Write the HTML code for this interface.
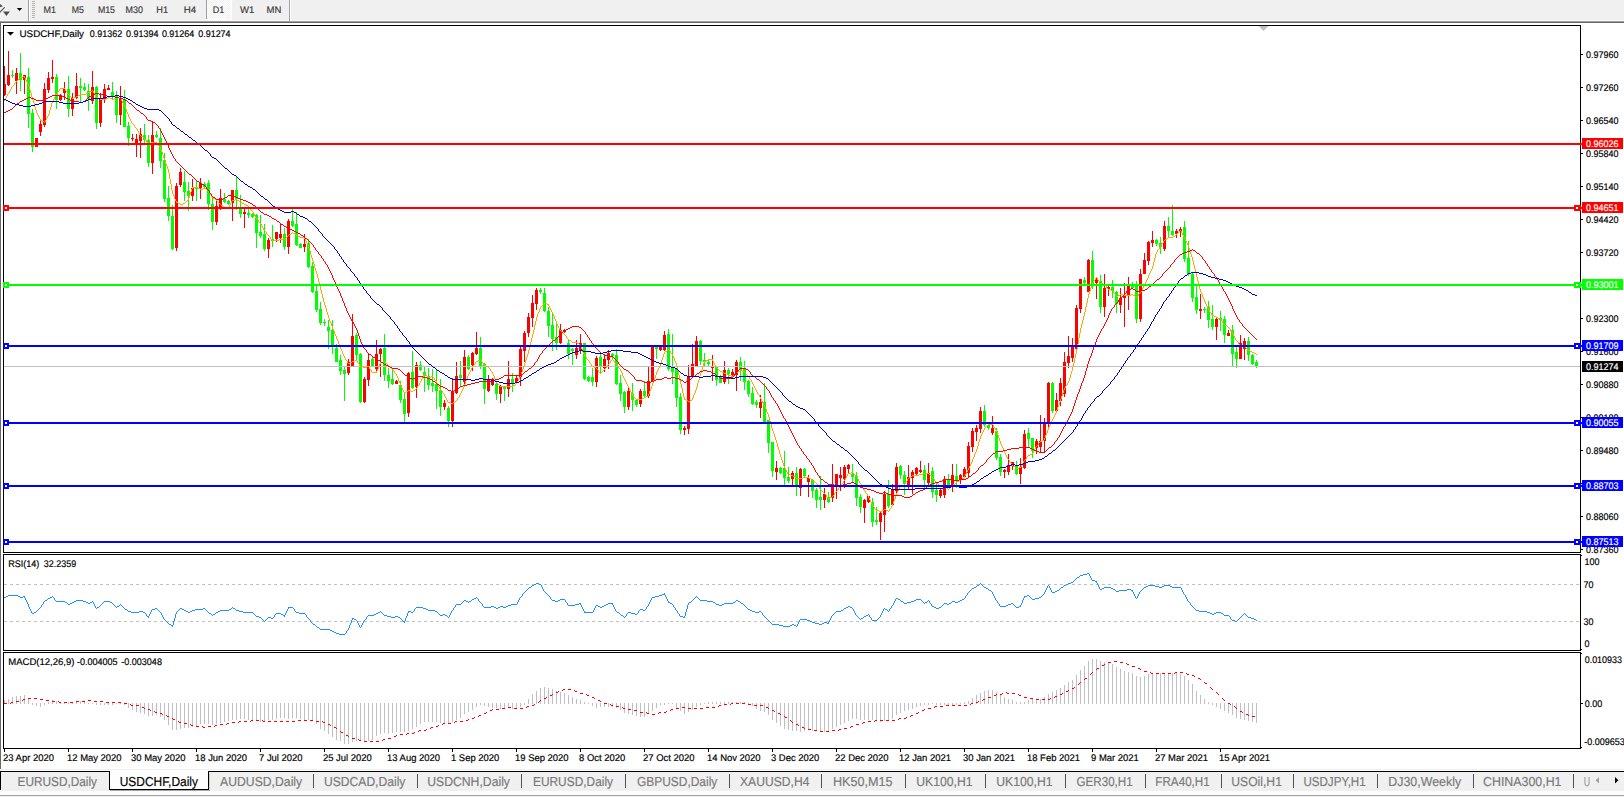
<!DOCTYPE html>
<html><head><meta charset="utf-8"><title>USDCHF,Daily</title>
<style>
html,body{margin:0;padding:0;background:#fff;overflow:hidden}
body{width:1624px;height:797px;font-family:"Liberation Sans", sans-serif}
svg{display:block}
text{font-family:"Liberation Sans", sans-serif;text-rendering:geometricPrecision}
</style></head><body>
<svg width="1624" height="797" viewBox="0 0 1624 797" shape-rendering="crispEdges" font-family='"Liberation Sans", sans-serif'>
<rect x="0" y="0" width="1624" height="797" fill="#fff"/>
<rect x="0" y="0" width="1624" height="21" fill="#f0f0f0"/>
<rect x="0" y="20" width="1624" height="1" fill="#f8f8f8"/>
<rect x="0" y="21" width="1624" height="1" fill="#a0a0a0"/>
<rect x="0" y="22" width="1624" height="1" fill="#696969"/>
<rect x="28" y="0" width="1" height="21" fill="#a0a0a0"/>
<rect x="29" y="0" width="1" height="21" fill="#ffffff"/>
<rect x="289" y="0" width="1" height="21" fill="#a0a0a0"/>
<rect x="290" y="0" width="1" height="21" fill="#ffffff"/>
<rect x="32" y="1" width="3" height="1" fill="#b4b4b4"/>
<rect x="32" y="3" width="3" height="1" fill="#b4b4b4"/>
<rect x="32" y="5" width="3" height="1" fill="#b4b4b4"/>
<rect x="32" y="7" width="3" height="1" fill="#b4b4b4"/>
<rect x="32" y="9" width="3" height="1" fill="#b4b4b4"/>
<rect x="32" y="11" width="3" height="1" fill="#b4b4b4"/>
<rect x="32" y="13" width="3" height="1" fill="#b4b4b4"/>
<rect x="32" y="15" width="3" height="1" fill="#b4b4b4"/>
<rect x="32" y="17" width="3" height="1" fill="#b4b4b4"/>
<defs><pattern id="dith" width="2" height="2" patternUnits="userSpaceOnUse"><rect width="2" height="2" fill="#f0f0f0"/><rect width="1" height="1" fill="#fff"/><rect x="1" y="1" width="1" height="1" fill="#fff"/></pattern></defs>
<rect x="207" y="0" width="24" height="19" fill="url(#dith)"/>
<rect x="206" y="0" width="1" height="19" fill="#a0a0a0"/>
<rect x="207" y="19" width="25" height="1" fill="#ffffff"/>
<rect x="231" y="0" width="1" height="19" fill="#ffffff"/>
<path d="M0 4 L2.9 6.2 L0 7.2 Z M3 11.4 L9.9 11.4 L6.4 16 Z" fill="#505050" shape-rendering="auto"/>
<path d="M-0.5 12.6 L4.6 7.4" stroke="#505050" stroke-width="1.1" fill="none" shape-rendering="auto"/>
<path d="M16.8 8 L22.2 8 L19.5 11 Z" fill="#000" shape-rendering="auto"/>
<text x="43.5" y="13" font-size="9.6" fill="#3c3c3c" stroke="#3c3c3c" stroke-width="0.18" textLength="12.5" lengthAdjust="spacingAndGlyphs">M1</text>
<text x="71.8" y="13" font-size="9.6" fill="#3c3c3c" stroke="#3c3c3c" stroke-width="0.18" textLength="12.2" lengthAdjust="spacingAndGlyphs">M5</text>
<text x="97.9" y="13" font-size="9.6" fill="#3c3c3c" stroke="#3c3c3c" stroke-width="0.18" textLength="17.1" lengthAdjust="spacingAndGlyphs">M15</text>
<text x="125.6" y="13" font-size="9.6" fill="#3c3c3c" stroke="#3c3c3c" stroke-width="0.18" textLength="17.4" lengthAdjust="spacingAndGlyphs">M30</text>
<text x="156.3" y="13" font-size="9.6" fill="#3c3c3c" stroke="#3c3c3c" stroke-width="0.18" textLength="11.8" lengthAdjust="spacingAndGlyphs">H1</text>
<text x="183.8" y="13" font-size="9.6" fill="#3c3c3c" stroke="#3c3c3c" stroke-width="0.18" textLength="12.4" lengthAdjust="spacingAndGlyphs">H4</text>
<text x="212.7" y="13" font-size="9.6" fill="#3c3c3c" stroke="#3c3c3c" stroke-width="0.18" textLength="11.5" lengthAdjust="spacingAndGlyphs">D1</text>
<text x="240" y="13" font-size="9.6" fill="#3c3c3c" stroke="#3c3c3c" stroke-width="0.18" textLength="14.3" lengthAdjust="spacingAndGlyphs">W1</text>
<text x="266.6" y="13" font-size="9.6" fill="#3c3c3c" stroke="#3c3c3c" stroke-width="0.18" textLength="14.8" lengthAdjust="spacingAndGlyphs">MN</text>
<rect x="0" y="22" width="1" height="747" fill="#696969"/>
<rect x="3" y="25" width="1578" height="1" fill="#000"/>
<rect x="3" y="25" width="1" height="528" fill="#000"/>
<rect x="1580" y="25" width="1" height="528" fill="#000"/>
<rect x="3" y="552" width="1578" height="1" fill="#000"/>
<rect x="3" y="554" width="1578" height="1" fill="#000"/>
<rect x="3" y="554" width="1" height="97" fill="#000"/>
<rect x="1580" y="554" width="1" height="97" fill="#000"/>
<rect x="3" y="650" width="1578" height="1" fill="#000"/>
<rect x="3" y="652" width="1578" height="1" fill="#000"/>
<rect x="3" y="652" width="1" height="97" fill="#000"/>
<rect x="1580" y="652" width="1" height="97" fill="#000"/>
<rect x="3" y="748" width="1578" height="1" fill="#000"/>
<rect x="1581" y="555" width="1" height="1" fill="#000"/>
<rect x="1581" y="649" width="1" height="1" fill="#000"/>
<rect x="1581" y="653" width="1" height="1" fill="#000"/>
<rect x="1581" y="747" width="1" height="1" fill="#000"/>
<rect x="1581" y="54" width="2" height="1" fill="#000"/>
<text x="1586" y="57.65" font-size="9.6" fill="#000" stroke="#000" stroke-width="0.18" textLength="32.4" lengthAdjust="spacingAndGlyphs">0.97960</text>
<rect x="1581" y="87" width="2" height="1" fill="#000"/>
<text x="1586" y="90.65" font-size="9.6" fill="#000" stroke="#000" stroke-width="0.18" textLength="32.4" lengthAdjust="spacingAndGlyphs">0.97260</text>
<rect x="1581" y="120" width="2" height="1" fill="#000"/>
<text x="1586" y="123.65" font-size="9.6" fill="#000" stroke="#000" stroke-width="0.18" textLength="32.4" lengthAdjust="spacingAndGlyphs">0.96540</text>
<rect x="1581" y="153" width="2" height="1" fill="#000"/>
<text x="1586" y="156.65" font-size="9.6" fill="#000" stroke="#000" stroke-width="0.18" textLength="32.4" lengthAdjust="spacingAndGlyphs">0.95840</text>
<rect x="1581" y="186" width="2" height="1" fill="#000"/>
<text x="1586" y="189.65" font-size="9.6" fill="#000" stroke="#000" stroke-width="0.18" textLength="32.4" lengthAdjust="spacingAndGlyphs">0.95140</text>
<rect x="1581" y="219" width="2" height="1" fill="#000"/>
<text x="1586" y="222.65" font-size="9.6" fill="#000" stroke="#000" stroke-width="0.18" textLength="32.4" lengthAdjust="spacingAndGlyphs">0.94420</text>
<rect x="1581" y="252" width="2" height="1" fill="#000"/>
<text x="1586" y="255.65" font-size="9.6" fill="#000" stroke="#000" stroke-width="0.18" textLength="32.4" lengthAdjust="spacingAndGlyphs">0.93720</text>
<rect x="1581" y="285" width="2" height="1" fill="#000"/>
<rect x="1581" y="318" width="2" height="1" fill="#000"/>
<text x="1586" y="321.65" font-size="9.6" fill="#000" stroke="#000" stroke-width="0.18" textLength="32.4" lengthAdjust="spacingAndGlyphs">0.92300</text>
<rect x="1581" y="351" width="2" height="1" fill="#000"/>
<text x="1586" y="354.65" font-size="9.6" fill="#000" stroke="#000" stroke-width="0.18" textLength="32.4" lengthAdjust="spacingAndGlyphs">0.91600</text>
<rect x="1581" y="384" width="2" height="1" fill="#000"/>
<text x="1586" y="387.65" font-size="9.6" fill="#000" stroke="#000" stroke-width="0.18" textLength="32.4" lengthAdjust="spacingAndGlyphs">0.90880</text>
<rect x="1581" y="417" width="2" height="1" fill="#000"/>
<text x="1586" y="420.65" font-size="9.6" fill="#000" stroke="#000" stroke-width="0.18" textLength="32.4" lengthAdjust="spacingAndGlyphs">0.90180</text>
<rect x="1581" y="450" width="2" height="1" fill="#000"/>
<text x="1586" y="453.65" font-size="9.6" fill="#000" stroke="#000" stroke-width="0.18" textLength="32.4" lengthAdjust="spacingAndGlyphs">0.89480</text>
<rect x="1581" y="483" width="2" height="1" fill="#000"/>
<rect x="1581" y="516" width="2" height="1" fill="#000"/>
<text x="1586" y="519.65" font-size="9.6" fill="#000" stroke="#000" stroke-width="0.18" textLength="32.4" lengthAdjust="spacingAndGlyphs">0.88060</text>
<rect x="1581" y="549" width="2" height="1" fill="#000"/>
<text x="1586" y="552.65" font-size="9.6" fill="#000" stroke="#000" stroke-width="0.18" textLength="32.4" lengthAdjust="spacingAndGlyphs">0.87360</text>
<path d="M12 70h1v8h-1zM11 75h3v1h-3zM20 53h1v38h-1zM19 73h3v7h-3zM28 68h1v60h-1zM27 77h3v37h-3zM32 109h1v43h-1zM31 113h3v34h-3zM56 74h1v35h-1zM55 77h3v23h-3zM68 76h1v41h-1zM67 89h3v20h-3zM80 78h1v24h-1zM79 86h3v2h-3zM84 83h1v8h-1zM83 87h3v3h-3zM88 84h1v27h-1zM87 91h3v8h-3zM96 86h1v43h-1zM95 87h3v36h-3zM112 82h1v17h-1zM111 92h3v5h-3zM116 91h1v32h-1zM115 95h3v20h-3zM124 90h1v37h-1zM123 99h3v28h-3zM128 122h1v24h-1zM127 126h3v12h-3zM144 124h1v19h-1zM143 135h3v5h-3zM148 135h1v32h-1zM147 140h3v23h-3zM156 131h1v7h-1zM155 135h3v2h-3zM160 128h1v40h-1zM159 138h3v23h-3zM164 153h1v49h-1zM163 160h3v39h-3zM168 186h1v35h-1zM167 198h3v18h-3zM172 205h1v45h-1zM171 216h3v33h-3zM184 171h1v30h-1zM183 182h3v10h-3zM188 182h1v29h-1zM187 191h3v5h-3zM196 181h1v20h-1zM195 187h3v2h-3zM204 182h1v6h-1zM203 184h3v3h-3zM208 180h1v30h-1zM207 183h3v21h-3zM212 198h1v32h-1zM211 204h3v18h-3zM224 193h1v10h-1zM223 199h3v3h-3zM228 200h1v5h-1zM227 201h3v3h-3zM236 176h1v34h-1zM235 190h3v9h-3zM240 195h1v23h-1zM239 208h3v6h-3zM248 209h1v9h-1zM247 213h3v2h-3zM252 213h1v5h-1zM251 214h3v3h-3zM256 214h1v34h-1zM255 215h3v18h-3zM260 215h1v23h-1zM259 232h3v4h-3zM264 224h1v27h-1zM263 234h3v15h-3zM272 225h1v22h-1zM271 239h3v2h-3zM284 228h1v22h-1zM283 234h3v13h-3zM292 209h1v18h-1zM291 221h3v5h-3zM296 212h1v34h-1zM295 224h3v21h-3zM300 243h1v5h-1zM299 244h3v4h-3zM308 239h1v29h-1zM307 243h3v24h-3zM312 262h1v31h-1zM311 266h3v26h-3zM316 286h1v26h-1zM315 291h3v19h-3zM320 302h1v23h-1zM319 309h3v14h-3zM324 319h1v7h-1zM323 322h3v1h-3zM328 320h1v29h-1zM327 327h3v4h-3zM332 320h1v34h-1zM331 330h3v17h-3zM336 344h1v18h-1zM335 348h3v14h-3zM340 355h1v20h-1zM339 360h3v11h-3zM344 366h1v35h-1zM343 370h3v4h-3zM356 333h1v27h-1zM355 335h3v20h-3zM360 353h1v50h-1zM359 354h3v48h-3zM372 357h1v10h-1zM371 359h3v7h-3zM384 334h1v47h-1zM383 348h3v27h-3zM388 368h1v20h-1zM387 375h3v6h-3zM392 370h1v15h-1zM391 379h3v5h-3zM400 381h1v22h-1zM399 385h3v15h-3zM404 393h1v29h-1zM403 399h3v15h-3zM412 351h1v38h-1zM411 372h3v16h-3zM420 361h1v10h-1zM419 365h3v5h-3zM424 367h1v25h-1zM423 372h3v3h-3zM428 368h1v22h-1zM427 376h3v9h-3zM432 369h1v23h-1zM431 383h3v3h-3zM436 370h1v39h-1zM435 384h3v7h-3zM440 379h1v37h-1zM439 390h3v17h-3zM448 406h1v21h-1zM447 408h3v13h-3zM460 361h1v26h-1zM459 375h3v3h-3zM468 355h1v15h-1zM467 357h3v12h-3zM480 337h1v32h-1zM479 348h3v18h-3zM484 363h1v41h-1zM483 364h3v25h-3zM496 382h1v18h-1zM495 384h3v10h-3zM504 386h1v15h-1zM503 386h3v3h-3zM512 373h1v19h-1zM511 379h3v4h-3zM540 288h1v6h-1zM539 290h3v2h-3zM544 288h1v24h-1zM543 293h3v18h-3zM548 307h1v30h-1zM547 311h3v15h-3zM552 313h1v38h-1zM551 325h3v14h-3zM556 323h1v27h-1zM555 337h3v6h-3zM568 340h1v19h-1zM567 343h3v11h-3zM572 348h1v17h-1zM571 349h3v2h-3zM584 343h1v37h-1zM583 343h3v36h-3zM588 376h1v6h-1zM587 377h3v4h-3zM592 368h1v18h-1zM591 377h3v5h-3zM600 352h1v22h-1zM599 357h3v10h-3zM612 353h1v7h-1zM611 354h3v2h-3zM616 349h1v36h-1zM615 355h3v29h-3zM620 375h1v26h-1zM619 383h3v11h-3zM624 391h1v22h-1zM623 392h3v15h-3zM632 383h1v28h-1zM631 394h3v6h-3zM636 399h1v8h-1zM635 400h3v5h-3zM644 381h1v16h-1zM643 391h3v5h-3zM656 346h1v13h-1zM655 347h3v2h-3zM668 329h1v42h-1zM667 334h3v35h-3zM672 334h1v50h-1zM671 367h3v5h-3zM676 368h1v39h-1zM675 369h3v29h-3zM680 393h1v41h-1zM679 397h3v33h-3zM700 340h1v25h-1zM699 341h3v20h-3zM704 353h1v14h-1zM703 360h3v2h-3zM708 360h1v7h-1zM707 362h3v2h-3zM716 366h1v20h-1zM715 367h3v13h-3zM720 375h1v8h-1zM719 377h3v6h-3zM728 368h1v16h-1zM727 370h3v4h-3zM740 357h1v24h-1zM739 362h3v8h-3zM744 361h1v29h-1zM743 369h3v13h-3zM748 380h1v17h-1zM747 381h3v13h-3zM752 387h1v18h-1zM751 393h3v11h-3zM756 400h1v8h-1zM755 402h3v3h-3zM764 383h1v40h-1zM763 402h3v20h-3zM768 420h1v33h-1zM767 420h3v23h-3zM772 442h1v35h-1zM771 442h3v29h-3zM780 467h1v7h-1zM779 468h3v5h-3zM784 451h1v34h-1zM783 468h3v10h-3zM788 467h1v16h-1zM787 477h3v4h-3zM796 467h1v29h-1zM795 473h3v14h-3zM804 468h1v9h-1zM803 469h3v7h-3zM812 479h1v19h-1zM811 480h3v11h-3zM816 488h1v20h-1zM815 490h3v10h-3zM820 476h1v34h-1zM819 497h3v3h-3zM828 492h1v11h-1zM827 497h3v5h-3zM852 464h1v18h-1zM851 474h3v3h-3zM856 472h1v34h-1zM855 476h3v22h-3zM860 494h1v19h-1zM859 497h3v10h-3zM872 498h1v29h-1zM871 502h3v20h-3zM876 507h1v18h-1zM875 520h3v2h-3zM888 480h1v28h-1zM887 494h3v12h-3zM900 465h1v14h-1zM899 466h3v9h-3zM904 471h1v24h-1zM903 475h3v9h-3zM924 465h1v23h-1zM923 470h3v10h-3zM932 467h1v31h-1zM931 471h3v21h-3zM936 482h1v20h-1zM935 490h3v5h-3zM948 474h1v14h-1zM947 480h3v6h-3zM956 464h1v24h-1zM955 476h3v4h-3zM984 405h1v22h-1zM983 411h3v14h-3zM988 423h1v7h-1zM987 425h3v3h-3zM996 428h1v32h-1zM995 431h3v27h-3zM1000 454h1v22h-1zM999 457h3v15h-3zM1016 461h1v14h-1zM1015 465h3v9h-3zM1028 428h1v19h-1zM1027 433h3v6h-3zM1032 438h1v20h-1zM1031 438h3v13h-3zM1052 382h1v31h-1zM1051 383h3v28h-3zM1084 277h1v7h-1zM1083 280h3v3h-3zM1092 251h1v38h-1zM1091 260h3v26h-3zM1100 275h1v38h-1zM1099 281h3v26h-3zM1112 280h1v18h-1zM1111 287h3v4h-3zM1116 291h1v22h-1zM1115 292h3v12h-3zM1132 282h1v7h-1zM1131 284h3v4h-3zM1136 281h1v42h-1zM1135 286h3v33h-3zM1156 239h1v7h-1zM1155 240h3v4h-3zM1160 237h1v17h-1zM1159 243h3v4h-3zM1168 217h1v21h-1zM1167 226h3v5h-3zM1172 205h1v31h-1zM1171 231h3v4h-3zM1184 221h1v41h-1zM1183 227h3v32h-3zM1188 241h1v35h-1zM1187 258h3v16h-3zM1192 272h1v30h-1zM1191 274h3v24h-3zM1196 285h1v29h-1zM1195 297h3v13h-3zM1204 307h1v6h-1zM1203 309h3v1h-3zM1208 301h1v27h-1zM1207 307h3v13h-3zM1212 305h1v25h-1zM1211 319h3v8h-3zM1220 311h1v20h-1zM1219 318h3v2h-3zM1224 316h1v27h-1zM1223 319h3v16h-3zM1232 325h1v42h-1zM1231 330h3v24h-3zM1236 347h1v21h-1zM1235 352h3v7h-3zM1248 337h1v24h-1zM1247 341h3v14h-3zM1252 354h1v11h-1zM1251 355h3v9h-3zM1256 360h1v8h-1zM1255 362h3v5h-3z" fill="#00ff00"/>
<path d="M4 66h1v30h-1zM4 84h2v11h-2zM8 51h1v35h-1zM7 75h3v10h-3zM16 68h1v26h-1zM15 73h3v8h-3zM24 75h1v19h-1zM23 75h3v5h-3zM36 138h1v9h-1zM35 138h3v9h-3zM40 120h1v16h-1zM39 124h3v8h-3zM44 83h1v44h-1zM43 89h3v36h-3zM48 72h1v21h-1zM47 78h3v12h-3zM52 60h1v23h-1zM51 77h3v2h-3zM60 94h1v7h-1zM59 96h3v4h-3zM64 82h1v18h-1zM63 89h3v4h-3zM72 93h1v23h-1zM71 98h3v11h-3zM76 73h1v26h-1zM75 86h3v12h-3zM92 71h1v33h-1zM91 87h3v14h-3zM100 93h1v34h-1zM99 98h3v25h-3zM104 84h1v19h-1zM103 89h3v10h-3zM108 85h1v5h-1zM107 88h3v2h-3zM120 86h1v39h-1zM119 99h3v16h-3zM132 134h1v7h-1zM131 138h3v1h-3zM136 134h1v23h-1zM135 139h3v4h-3zM140 128h1v30h-1zM139 134h3v7h-3zM152 122h1v52h-1zM151 135h3v28h-3zM176 183h1v68h-1zM175 186h3v62h-3zM180 168h1v19h-1zM179 172h3v13h-3zM192 179h1v22h-1zM191 188h3v8h-3zM200 178h1v21h-1zM199 183h3v5h-3zM216 199h1v26h-1zM215 206h3v16h-3zM220 189h1v21h-1zM219 198h3v10h-3zM232 190h1v31h-1zM231 190h3v13h-3zM244 209h1v19h-1zM243 212h3v2h-3zM268 238h1v20h-1zM267 240h3v9h-3zM276 232h1v10h-1zM275 232h3v7h-3zM280 223h1v20h-1zM279 234h3v4h-3zM288 219h1v35h-1zM287 221h3v26h-3zM304 234h1v18h-1zM303 244h3v3h-3zM348 359h1v16h-1zM347 362h3v11h-3zM352 314h1v53h-1zM351 336h3v30h-3zM364 377h1v26h-1zM363 379h3v23h-3zM368 353h1v33h-1zM367 360h3v20h-3zM376 340h1v32h-1zM375 354h3v15h-3zM380 348h1v29h-1zM379 349h3v5h-3zM396 380h1v4h-1zM395 381h3v3h-3zM408 372h1v45h-1zM407 373h3v40h-3zM416 362h1v36h-1zM415 365h3v22h-3zM444 400h1v10h-1zM443 403h3v4h-3zM452 378h1v49h-1zM451 392h3v29h-3zM456 362h1v32h-1zM455 376h3v17h-3zM464 350h1v37h-1zM463 357h3v25h-3zM472 352h1v19h-1zM471 353h3v12h-3zM476 332h1v23h-1zM475 348h3v6h-3zM488 375h1v17h-1zM487 379h3v12h-3zM492 378h1v8h-1zM491 379h3v6h-3zM500 385h1v18h-1zM499 386h3v8h-3zM508 361h1v36h-1zM507 379h3v10h-3zM516 375h1v9h-1zM515 378h3v5h-3zM520 346h1v40h-1zM519 349h3v28h-3zM524 331h1v31h-1zM523 333h3v18h-3zM528 313h1v24h-1zM527 317h3v16h-3zM532 295h1v32h-1zM531 303h3v15h-3zM536 288h1v22h-1zM535 290h3v14h-3zM560 324h1v20h-1zM559 330h3v13h-3zM564 329h1v4h-1zM563 330h3v2h-3zM576 340h1v19h-1zM575 348h3v7h-3zM580 334h1v20h-1zM579 343h3v7h-3zM596 356h1v31h-1zM595 358h3v24h-3zM604 354h1v18h-1zM603 359h3v9h-3zM608 350h1v19h-1zM607 353h3v7h-3zM628 388h1v22h-1zM627 391h3v16h-3zM640 389h1v18h-1zM639 391h3v13h-3zM648 366h1v32h-1zM647 381h3v15h-3zM652 346h1v36h-1zM651 347h3v34h-3zM660 346h1v5h-1zM659 347h3v3h-3zM664 331h1v20h-1zM663 335h3v15h-3zM684 426h1v9h-1zM683 428h3v2h-3zM688 365h1v69h-1zM687 376h3v53h-3zM692 344h1v33h-1zM691 364h3v12h-3zM696 336h1v30h-1zM695 341h3v25h-3zM712 355h1v26h-1zM711 366h3v2h-3zM724 361h1v23h-1zM723 370h3v12h-3zM732 369h1v7h-1zM731 372h3v3h-3zM736 360h1v31h-1zM735 362h3v13h-3zM760 395h1v23h-1zM759 402h3v6h-3zM776 461h1v19h-1zM775 468h3v4h-3zM792 471h1v14h-1zM791 473h3v6h-3zM800 468h1v28h-1zM799 469h3v19h-3zM808 475h1v22h-1zM807 478h3v4h-3zM824 488h1v20h-1zM823 494h3v6h-3zM832 464h1v38h-1zM831 484h3v14h-3zM836 474h1v25h-1zM835 474h3v12h-3zM840 467h1v24h-1zM839 475h3v3h-3zM844 465h1v23h-1zM843 467h3v12h-3zM848 464h1v9h-1zM847 465h3v4h-3zM864 499h1v24h-1zM863 500h3v8h-3zM868 496h1v7h-1zM867 496h3v6h-3zM880 511h1v29h-1zM879 513h3v9h-3zM884 491h1v41h-1zM883 494h3v21h-3zM892 484h1v22h-1zM891 490h3v15h-3zM896 463h1v30h-1zM895 467h3v24h-3zM908 465h1v24h-1zM907 477h3v8h-3zM912 470h1v24h-1zM911 472h3v6h-3zM916 467h1v8h-1zM915 468h3v6h-3zM920 461h1v12h-1zM919 470h3v2h-3zM928 463h1v24h-1zM927 473h3v10h-3zM940 489h1v9h-1zM939 490h3v6h-3zM944 476h1v22h-1zM943 479h3v16h-3zM952 464h1v28h-1zM951 475h3v10h-3zM960 474h1v10h-1zM959 475h3v5h-3zM964 467h1v11h-1zM963 469h3v8h-3zM968 442h1v35h-1zM967 446h3v27h-3zM972 428h1v24h-1zM971 431h3v16h-3zM976 425h1v16h-1zM975 428h3v4h-3zM980 407h1v26h-1zM979 411h3v18h-3zM992 416h1v19h-1zM991 428h3v5h-3zM1004 469h1v9h-1zM1003 470h3v2h-3zM1008 454h1v21h-1zM1007 465h3v7h-3zM1012 462h1v8h-1zM1011 462h3v4h-3zM1020 458h1v26h-1zM1019 467h3v7h-3zM1024 430h1v39h-1zM1023 434h3v34h-3zM1036 439h1v15h-1zM1035 441h3v7h-3zM1040 415h1v37h-1zM1039 441h3v6h-3zM1044 418h1v34h-1zM1043 423h3v18h-3zM1048 382h1v45h-1zM1047 383h3v41h-3zM1056 393h1v19h-1zM1055 400h3v11h-3zM1060 378h1v28h-1zM1059 383h3v18h-3zM1064 352h1v45h-1zM1063 362h3v32h-3zM1068 336h1v32h-1zM1067 356h3v7h-3zM1072 338h1v24h-1zM1071 346h3v12h-3zM1076 305h1v45h-1zM1075 308h3v41h-3zM1080 279h1v34h-1zM1079 279h3v30h-3zM1088 259h1v33h-1zM1087 260h3v32h-3zM1096 277h1v22h-1zM1095 278h3v5h-3zM1104 274h1v43h-1zM1103 288h3v19h-3zM1108 286h1v10h-1zM1107 287h3v2h-3zM1120 288h1v25h-1zM1119 298h3v7h-3zM1124 283h1v44h-1zM1123 295h3v3h-3zM1128 277h1v33h-1zM1127 285h3v10h-3zM1140 269h1v53h-1zM1139 274h3v45h-3zM1144 253h1v21h-1zM1143 260h3v14h-3zM1148 241h1v24h-1zM1147 242h3v19h-3zM1152 231h1v16h-1zM1151 240h3v3h-3zM1164 221h1v30h-1zM1163 226h3v23h-3zM1176 229h1v9h-1zM1175 231h3v3h-3zM1180 227h1v10h-1zM1179 229h3v2h-3zM1200 294h1v25h-1zM1199 309h3v2h-3zM1216 318h1v22h-1zM1215 319h3v8h-3zM1228 330h1v6h-1zM1227 333h3v3h-3zM1240 335h1v24h-1zM1239 343h3v16h-3zM1244 338h1v22h-1zM1243 341h3v8h-3z" fill="#ff0000"/>
<rect x="4" y="366" width="1576" height="1" fill="#c0c0c0"/>
<path d="M23 76h2v1h-2zM20 77h3v1h-3zM24 77h1v1h-1zM19 78h1v1h-1zM25 78h1v2h-1zM18 79h1v1h-1zM17 80h1v1h-1zM26 80h1v2h-1zM16 81h1v1h-1zM15 82h1v1h-1zM27 82h1v2h-1zM14 83h1v2h-1zM28 84h1v2h-1zM13 85h1v1h-1zM12 86h1v1h-1zM29 86h1v4h-1zM11 87h1v2h-1zM60 88h5v1h-5zM10 89h1v2h-1zM59 89h1v2h-1zM65 89h1v2h-1zM30 90h1v3h-1zM92 90h1v1h-1zM9 91h1v2h-1zM58 91h1v1h-1zM66 91h1v1h-1zM90 91h2v1h-2zM93 91h1v2h-1zM57 92h1v2h-1zM67 92h1v2h-1zM88 92h2v1h-2zM8 93h1v1h-1zM31 93h1v4h-1zM86 93h2v1h-2zM94 93h1v2h-1zM7 94h1v2h-1zM56 94h1v1h-1zM68 94h1v1h-1zM80 94h6v1h-6zM55 95h1v2h-1zM69 95h1v1h-1zM78 95h2v1h-2zM95 95h1v2h-1zM6 96h1v2h-1zM70 96h1v1h-1zM76 96h2v1h-2zM32 97h1v3h-1zM54 97h1v2h-1zM71 97h1v1h-1zM74 97h2v1h-2zM96 97h2v1h-2zM108 97h2v1h-2zM116 97h3v1h-3zM5 98h1v2h-1zM72 98h2v1h-2zM98 98h2v1h-2zM106 98h2v1h-2zM110 98h2v1h-2zM114 98h2v1h-2zM119 98h2v1h-2zM53 99h1v2h-1zM100 99h6v1h-6zM112 99h2v1h-2zM121 99h1v2h-1zM4 100h1v1h-1zM33 100h1v3h-1zM52 101h1v2h-1zM122 101h1v2h-1zM34 103h1v4h-1zM51 103h1v4h-1zM123 103h1v2h-1zM124 105h1v2h-1zM35 107h1v3h-1zM50 107h1v3h-1zM125 107h1v2h-1zM126 109h1v3h-1zM36 110h1v3h-1zM49 110h1v4h-1zM127 112h1v2h-1zM37 113h1v2h-1zM48 114h1v2h-1zM128 114h1v3h-1zM38 115h1v2h-1zM47 116h1v2h-1zM39 117h1v2h-1zM129 117h1v2h-1zM46 118h1v2h-1zM40 119h1v2h-1zM130 119h1v2h-1zM41 120h1v1h-1zM45 120h1v2h-1zM42 121h2v1h-2zM131 121h1v2h-1zM44 122h1v1h-1zM132 123h1v1h-1zM133 124h1v1h-1zM134 125h1v2h-1zM135 127h1v1h-1zM136 128h1v1h-1zM137 129h1v2h-1zM138 131h1v2h-1zM139 133h1v2h-1zM140 135h1v1h-1zM141 136h2v1h-2zM143 137h1v1h-1zM144 138h1v1h-1zM145 139h1v1h-1zM146 140h1v2h-1zM147 142h1v1h-1zM151 142h6v1h-6zM148 143h3v1h-3zM157 143h1v1h-1zM158 144h1v2h-1zM159 146h1v1h-1zM160 147h1v2h-1zM161 149h1v3h-1zM162 152h1v3h-1zM163 155h1v3h-1zM164 158h1v3h-1zM165 161h1v3h-1zM166 164h1v2h-1zM167 166h1v3h-1zM168 169h1v4h-1zM169 173h1v6h-1zM170 179h1v5h-1zM171 184h1v6h-1zM192 187h6v1h-6zM192 188h1v1h-1zM198 188h2v1h-2zM203 188h3v1h-3zM191 189h1v3h-1zM200 189h3v1h-3zM206 189h2v1h-2zM172 190h1v4h-1zM208 190h1v1h-1zM209 191h1v2h-1zM190 192h1v3h-1zM210 193h1v2h-1zM173 194h1v2h-1zM189 195h1v3h-1zM211 195h1v2h-1zM174 196h1v3h-1zM212 197h1v1h-1zM188 198h1v2h-1zM213 198h2v1h-2zM175 199h1v2h-1zM215 199h1v1h-1zM235 199h2v1h-2zM187 200h1v1h-1zM216 200h1v1h-1zM232 200h3v1h-3zM237 200h2v1h-2zM176 201h1v2h-1zM186 201h1v1h-1zM217 201h1v1h-1zM231 201h1v2h-1zM239 201h1v1h-1zM177 202h1v1h-1zM185 202h1v1h-1zM218 202h1v1h-1zM240 202h2v1h-2zM178 203h2v1h-2zM183 203h2v1h-2zM219 203h1v1h-1zM230 203h1v2h-1zM242 203h2v1h-2zM180 204h3v1h-3zM220 204h1v1h-1zM244 204h2v1h-2zM221 205h2v1h-2zM229 205h1v2h-1zM246 205h2v1h-2zM223 206h1v1h-1zM248 206h1v1h-1zM224 207h5v1h-5zM249 207h1v1h-1zM250 208h1v2h-1zM251 210h1v1h-1zM252 211h1v1h-1zM253 212h1v2h-1zM254 214h1v2h-1zM255 216h1v2h-1zM256 218h1v1h-1zM257 219h1v1h-1zM258 220h1v2h-1zM259 222h1v1h-1zM260 223h1v1h-1zM261 224h1v2h-1zM262 226h1v2h-1zM263 228h1v2h-1zM264 230h1v1h-1zM1180 230h1v1h-1zM265 231h1v1h-1zM1179 231h1v1h-1zM1181 231h1v2h-1zM266 232h1v2h-1zM292 232h1v1h-1zM1178 232h1v1h-1zM291 233h1v1h-1zM293 233h2v1h-2zM1177 233h1v1h-1zM1182 233h1v2h-1zM267 234h1v1h-1zM289 234h2v1h-2zM295 234h1v1h-1zM1176 234h1v1h-1zM268 235h1v1h-1zM288 235h1v1h-1zM296 235h2v1h-2zM1175 235h1v1h-1zM1183 235h1v2h-1zM269 236h1v1h-1zM287 236h1v1h-1zM298 236h2v1h-2zM1173 236h2v1h-2zM270 237h1v2h-1zM286 237h1v1h-1zM300 237h5v1h-5zM1168 237h5v1h-5zM1184 237h1v2h-1zM285 238h1v1h-1zM304 238h1v1h-1zM1167 238h1v1h-1zM271 239h1v1h-1zM279 239h6v1h-6zM305 239h1v2h-1zM1165 239h2v1h-2zM1185 239h1v2h-1zM272 240h7v1h-7zM1164 240h1v1h-1zM306 241h1v2h-1zM1163 241h1v2h-1zM1186 241h1v2h-1zM307 243h1v2h-1zM1162 243h1v1h-1zM1187 243h1v2h-1zM1161 244h1v2h-1zM308 245h1v3h-1zM1188 245h1v3h-1zM1160 246h1v1h-1zM1159 247h1v2h-1zM309 248h1v3h-1zM1189 248h1v3h-1zM1158 249h1v1h-1zM1157 250h1v2h-1zM310 251h1v4h-1zM1190 251h1v3h-1zM1156 252h1v2h-1zM1155 254h1v4h-1zM1191 254h1v3h-1zM311 255h1v3h-1zM1192 257h1v4h-1zM312 258h1v3h-1zM1154 258h1v4h-1zM313 261h1v3h-1zM1193 261h1v4h-1zM1153 262h1v4h-1zM314 264h1v4h-1zM1194 265h1v4h-1zM1152 266h1v3h-1zM315 268h1v3h-1zM1151 269h1v2h-1zM1195 269h1v4h-1zM316 271h1v3h-1zM1150 271h1v2h-1zM1149 273h1v2h-1zM1196 273h1v4h-1zM317 274h1v4h-1zM1148 275h1v3h-1zM1096 277h1v1h-1zM1197 277h1v4h-1zM318 278h1v4h-1zM1095 278h1v2h-1zM1097 278h1v2h-1zM1147 278h1v2h-1zM1094 280h1v1h-1zM1098 280h1v1h-1zM1146 280h1v2h-1zM1093 281h1v2h-1zM1099 281h1v2h-1zM1198 281h1v4h-1zM319 282h1v4h-1zM1145 282h1v2h-1zM1092 283h1v2h-1zM1100 283h3v1h-3zM1103 284h2v1h-2zM1144 284h1v2h-1zM1091 285h1v3h-1zM1105 285h1v1h-1zM1199 285h1v4h-1zM320 286h1v4h-1zM1106 286h1v2h-1zM1143 286h1v2h-1zM1090 288h1v3h-1zM1107 288h1v1h-1zM1142 288h1v2h-1zM1108 289h3v1h-3zM1200 289h1v3h-1zM321 290h1v4h-1zM1111 290h2v1h-2zM1141 290h1v2h-1zM1089 291h1v3h-1zM1113 291h1v2h-1zM1140 292h1v1h-1zM1201 292h1v2h-1zM1114 293h1v1h-1zM1139 293h1v1h-1zM322 294h1v4h-1zM1088 294h1v4h-1zM1115 294h1v2h-1zM1120 294h3v1h-3zM1131 294h2v1h-2zM1138 294h1v2h-1zM1202 294h1v3h-1zM1118 295h2v1h-2zM1123 295h8v1h-8zM1133 295h2v1h-2zM1116 296h2v1h-2zM1135 296h1v1h-1zM1137 296h1v1h-1zM1136 297h1v1h-1zM1203 297h1v2h-1zM323 298h1v4h-1zM1087 298h1v5h-1zM1204 299h1v3h-1zM324 302h1v3h-1zM1205 302h1v2h-1zM544 303h3v1h-3zM1086 303h1v4h-1zM543 304h1v1h-1zM547 304h2v1h-2zM1206 304h1v2h-1zM325 305h1v3h-1zM542 305h1v1h-1zM548 305h1v1h-1zM541 306h1v1h-1zM549 306h1v2h-1zM1207 306h1v2h-1zM540 307h1v2h-1zM1085 307h1v5h-1zM326 308h1v4h-1zM550 308h1v2h-1zM1208 308h1v2h-1zM539 309h1v3h-1zM551 310h1v2h-1zM1209 310h1v2h-1zM327 312h1v3h-1zM538 312h1v2h-1zM552 312h1v2h-1zM1084 312h1v4h-1zM1210 312h1v1h-1zM1211 313h1v2h-1zM537 314h1v3h-1zM553 314h1v2h-1zM328 315h1v3h-1zM1212 315h2v1h-2zM554 316h1v3h-1zM1083 316h1v4h-1zM1214 316h2v1h-2zM536 317h1v4h-1zM1216 317h2v1h-2zM329 318h1v3h-1zM1218 318h2v1h-2zM555 319h1v2h-1zM1220 319h1v1h-1zM1082 320h1v4h-1zM1221 320h1v1h-1zM330 321h1v2h-1zM535 321h1v4h-1zM556 321h1v3h-1zM1222 321h1v2h-1zM331 323h1v3h-1zM1223 323h1v1h-1zM557 324h1v2h-1zM1081 324h1v4h-1zM1224 324h1v1h-1zM534 325h1v5h-1zM1225 325h2v1h-2zM332 326h1v3h-1zM558 326h1v2h-1zM1227 326h1v1h-1zM1228 327h1v1h-1zM559 328h1v2h-1zM1080 328h1v5h-1zM1229 328h1v1h-1zM333 329h1v2h-1zM1230 329h1v2h-1zM533 330h1v4h-1zM560 330h1v1h-1zM334 331h1v3h-1zM561 331h1v1h-1zM1231 331h1v1h-1zM562 332h1v1h-1zM1232 332h1v2h-1zM563 333h1v1h-1zM1079 333h1v5h-1zM335 334h1v2h-1zM532 334h1v4h-1zM564 334h1v1h-1zM1233 334h1v2h-1zM565 335h1v1h-1zM336 336h1v3h-1zM566 336h1v2h-1zM1234 336h1v2h-1zM531 338h1v4h-1zM567 338h1v1h-1zM1078 338h1v6h-1zM1235 338h1v2h-1zM337 339h1v2h-1zM568 339h1v1h-1zM569 340h2v1h-2zM1236 340h1v1h-1zM338 341h1v3h-1zM571 341h1v1h-1zM1237 341h1v1h-1zM530 342h1v4h-1zM572 342h5v1h-5zM1238 342h1v2h-1zM577 343h2v1h-2zM339 344h1v2h-1zM579 344h1v1h-1zM1077 344h1v5h-1zM1239 344h1v1h-1zM580 345h1v2h-1zM1240 345h3v1h-3zM340 346h1v3h-1zM529 346h1v4h-1zM1243 346h2v1h-2zM581 347h1v2h-1zM1245 347h1v1h-1zM1246 348h1v1h-1zM341 349h1v2h-1zM582 349h1v3h-1zM668 349h1v1h-1zM1076 349h1v5h-1zM1247 349h1v1h-1zM528 350h1v4h-1zM667 350h1v1h-1zM669 350h1v1h-1zM1248 350h2v1h-2zM342 351h1v3h-1zM665 351h2v1h-2zM670 351h1v2h-1zM1250 351h2v1h-2zM583 352h1v2h-1zM664 352h1v2h-1zM1252 352h2v1h-2zM671 353h1v1h-1zM1254 353h2v1h-2zM343 354h1v2h-1zM527 354h1v3h-1zM584 354h1v2h-1zM663 354h1v3h-1zM672 354h1v2h-1zM1075 354h1v4h-1zM1256 354h1v1h-1zM344 356h1v2h-1zM585 356h1v1h-1zM673 356h1v2h-1zM526 357h1v3h-1zM586 357h1v2h-1zM662 357h1v3h-1zM345 358h1v2h-1zM674 358h1v3h-1zM1074 358h1v5h-1zM480 359h1v1h-1zM587 359h1v1h-1zM612 359h1v1h-1zM708 359h5v1h-5zM346 360h1v1h-1zM355 360h2v1h-2zM478 360h2v1h-2zM481 360h1v2h-1zM525 360h1v3h-1zM588 360h1v1h-1zM611 360h1v1h-1zM613 360h1v1h-1zM661 360h1v3h-1zM706 360h2v1h-2zM712 360h1v1h-1zM347 361h1v2h-1zM352 361h3v1h-3zM357 361h1v2h-1zM383 361h2v1h-2zM476 361h2v1h-2zM589 361h1v2h-1zM610 361h1v2h-1zM614 361h1v2h-1zM675 361h1v2h-1zM704 361h2v1h-2zM713 361h1v2h-1zM350 362h2v1h-2zM380 362h3v1h-3zM385 362h1v1h-1zM475 362h1v2h-1zM482 362h1v1h-1zM704 362h1v1h-1zM348 363h2v1h-2zM358 363h1v1h-1zM380 363h1v1h-1zM386 363h1v1h-1zM483 363h1v2h-1zM524 363h1v3h-1zM590 363h1v1h-1zM609 363h1v1h-1zM615 363h1v1h-1zM660 363h1v3h-1zM676 363h1v4h-1zM703 363h1v3h-1zM714 363h1v2h-1zM1073 363h1v4h-1zM359 364h1v2h-1zM379 364h1v2h-1zM387 364h1v1h-1zM474 364h1v1h-1zM591 364h1v2h-1zM608 364h1v1h-1zM616 364h1v1h-1zM388 365h1v1h-1zM473 365h1v2h-1zM484 365h2v1h-2zM607 365h1v1h-1zM617 365h1v1h-1zM715 365h1v2h-1zM360 366h3v1h-3zM367 366h2v1h-2zM378 366h1v3h-1zM389 366h1v1h-1zM486 366h2v1h-2zM523 366h1v3h-1zM592 366h2v1h-2zM606 366h1v2h-1zM618 366h1v2h-1zM659 366h1v2h-1zM702 366h1v4h-1zM363 367h4v1h-4zM369 367h1v2h-1zM390 367h1v1h-1zM472 367h1v1h-1zM488 367h1v1h-1zM594 367h2v1h-2zM677 367h1v4h-1zM716 367h1v1h-1zM1072 367h1v4h-1zM391 368h1v1h-1zM471 368h1v2h-1zM489 368h1v1h-1zM596 368h1v1h-1zM605 368h1v1h-1zM619 368h1v1h-1zM658 368h1v2h-1zM717 368h1v1h-1zM370 369h1v1h-1zM377 369h1v2h-1zM392 369h1v1h-1zM490 369h1v2h-1zM522 369h1v3h-1zM597 369h1v1h-1zM604 369h1v1h-1zM620 369h1v2h-1zM718 369h1v1h-1zM371 370h1v2h-1zM393 370h1v1h-1zM470 370h1v2h-1zM598 370h1v2h-1zM603 370h1v1h-1zM657 370h1v2h-1zM701 370h1v3h-1zM719 370h1v1h-1zM740 370h2v1h-2zM376 371h1v2h-1zM394 371h1v2h-1zM491 371h1v1h-1zM602 371h1v1h-1zM621 371h1v2h-1zM678 371h1v4h-1zM720 371h2v1h-2zM738 371h2v1h-2zM742 371h2v1h-2zM1071 371h1v3h-1zM372 372h4v1h-4zM469 372h1v2h-1zM492 372h1v2h-1zM521 372h1v3h-1zM599 372h1v1h-1zM601 372h1v1h-1zM656 372h1v3h-1zM722 372h2v1h-2zM736 372h2v1h-2zM744 372h1v1h-1zM395 373h1v1h-1zM600 373h1v1h-1zM622 373h1v3h-1zM700 373h1v3h-1zM724 373h2v1h-2zM735 373h1v1h-1zM745 373h1v1h-1zM396 374h1v2h-1zM424 374h1v1h-1zM468 374h1v2h-1zM493 374h1v2h-1zM726 374h2v1h-2zM734 374h1v1h-1zM746 374h1v1h-1zM1070 374h1v4h-1zM423 375h1v2h-1zM425 375h2v1h-2zM520 375h1v2h-1zM655 375h1v3h-1zM679 375h1v4h-1zM728 375h3v1h-3zM733 375h1v1h-1zM747 375h1v1h-1zM397 376h1v2h-1zM427 376h1v1h-1zM431 376h2v1h-2zM467 376h1v3h-1zM494 376h1v3h-1zM623 376h1v2h-1zM699 376h1v4h-1zM731 376h2v1h-2zM748 376h1v1h-1zM422 377h1v2h-1zM428 377h3v1h-3zM433 377h1v1h-1zM519 377h1v2h-1zM749 377h1v2h-1zM398 378h1v3h-1zM434 378h1v2h-1zM624 378h1v2h-1zM654 378h1v2h-1zM1069 378h1v3h-1zM421 379h1v2h-1zM466 379h1v2h-1zM495 379h1v2h-1zM518 379h1v2h-1zM680 379h1v5h-1zM750 379h1v1h-1zM435 380h1v1h-1zM625 380h1v2h-1zM653 380h1v3h-1zM698 380h1v3h-1zM751 380h1v2h-1zM399 381h1v2h-1zM420 381h1v2h-1zM436 381h1v2h-1zM465 381h1v3h-1zM496 381h1v2h-1zM517 381h1v2h-1zM1068 381h1v2h-1zM626 382h1v2h-1zM752 382h1v2h-1zM400 383h1v3h-1zM419 383h1v2h-1zM437 383h1v2h-1zM497 383h1v1h-1zM516 383h1v1h-1zM652 383h1v3h-1zM697 383h1v4h-1zM1067 383h1v2h-1zM464 384h1v3h-1zM498 384h1v1h-1zM515 384h1v1h-1zM627 384h1v2h-1zM681 384h1v4h-1zM753 384h1v2h-1zM418 385h1v1h-1zM438 385h1v2h-1zM499 385h1v1h-1zM513 385h2v1h-2zM1066 385h1v1h-1zM401 386h1v2h-1zM417 386h1v2h-1zM500 386h13v1h-13zM628 386h1v2h-1zM651 386h1v3h-1zM754 386h1v2h-1zM1065 386h1v2h-1zM439 387h1v2h-1zM463 387h1v2h-1zM696 387h1v3h-1zM402 388h1v2h-1zM416 388h1v1h-1zM629 388h1v2h-1zM682 388h1v5h-1zM755 388h1v2h-1zM1064 388h1v2h-1zM415 389h1v1h-1zM440 389h1v1h-1zM462 389h1v2h-1zM650 389h1v2h-1zM403 390h1v2h-1zM408 390h3v1h-3zM413 390h2v1h-2zM441 390h1v1h-1zM630 390h1v2h-1zM695 390h1v3h-1zM756 390h1v2h-1zM1063 390h1v3h-1zM406 391h2v1h-2zM411 391h2v1h-2zM442 391h1v2h-1zM461 391h1v2h-1zM649 391h1v3h-1zM404 392h2v1h-2zM631 392h1v2h-1zM757 392h1v2h-1zM443 393h1v1h-1zM460 393h1v2h-1zM683 393h1v4h-1zM694 393h1v2h-1zM1062 393h1v3h-1zM444 394h1v2h-1zM632 394h1v2h-1zM648 394h1v2h-1zM758 394h1v1h-1zM459 395h1v2h-1zM693 395h1v3h-1zM759 395h1v2h-1zM445 396h1v2h-1zM633 396h1v1h-1zM646 396h2v1h-2zM1061 396h1v3h-1zM458 397h1v1h-1zM634 397h1v1h-1zM644 397h2v1h-2zM684 397h1v3h-1zM760 397h1v2h-1zM446 398h1v2h-1zM457 398h1v2h-1zM635 398h1v1h-1zM642 398h2v1h-2zM692 398h1v2h-1zM636 399h6v1h-6zM685 399h1v1h-1zM761 399h1v2h-1zM1060 399h1v3h-1zM447 400h1v2h-1zM456 400h1v1h-1zM686 400h2v1h-2zM690 400h2v1h-2zM455 401h1v1h-1zM688 401h2v1h-2zM762 401h1v2h-1zM448 402h3v1h-3zM453 402h2v1h-2zM1059 402h1v3h-1zM451 403h2v1h-2zM763 403h1v2h-1zM764 405h1v2h-1zM1058 405h1v2h-1zM765 407h1v2h-1zM1057 407h1v3h-1zM766 409h1v3h-1zM1056 410h1v3h-1zM767 412h1v2h-1zM1055 413h1v2h-1zM768 414h1v3h-1zM1054 415h1v2h-1zM769 417h1v4h-1zM1053 417h1v2h-1zM1052 419h1v2h-1zM770 421h1v3h-1zM1051 421h1v2h-1zM1050 423h1v2h-1zM771 424h1v4h-1zM988 424h5v1h-5zM987 425h1v1h-1zM993 425h1v2h-1zM1049 425h1v2h-1zM986 426h1v1h-1zM985 427h1v1h-1zM994 427h1v1h-1zM1048 427h1v3h-1zM772 428h1v3h-1zM984 428h1v2h-1zM995 428h1v2h-1zM983 430h1v2h-1zM996 430h1v2h-1zM1047 430h1v3h-1zM773 431h1v3h-1zM982 432h1v2h-1zM997 432h1v3h-1zM1046 433h1v2h-1zM774 434h1v3h-1zM981 434h1v2h-1zM998 435h1v3h-1zM1045 435h1v3h-1zM980 436h1v3h-1zM775 437h1v3h-1zM999 438h1v3h-1zM1044 438h1v2h-1zM979 439h1v3h-1zM776 440h1v3h-1zM1042 440h2v1h-2zM1000 441h1v3h-1zM1040 441h2v1h-2zM978 442h1v4h-1zM1039 442h1v1h-1zM777 443h1v4h-1zM1038 443h1v2h-1zM1001 444h1v2h-1zM1037 445h1v1h-1zM977 446h1v3h-1zM1002 446h1v2h-1zM1036 446h1v1h-1zM778 447h1v3h-1zM1035 447h1v2h-1zM1003 448h1v2h-1zM976 449h1v3h-1zM1034 449h1v2h-1zM779 450h1v4h-1zM1004 450h1v3h-1zM1033 451h1v2h-1zM975 452h1v2h-1zM1005 453h1v2h-1zM1032 453h1v1h-1zM780 454h1v3h-1zM974 454h1v3h-1zM1030 454h2v1h-2zM1006 455h1v2h-1zM1028 455h2v1h-2zM1027 456h1v1h-1zM781 457h1v3h-1zM973 457h1v2h-1zM1007 457h1v2h-1zM1026 457h1v2h-1zM972 459h1v3h-1zM1008 459h1v1h-1zM1025 459h1v1h-1zM782 460h1v3h-1zM1009 460h1v2h-1zM1024 460h1v1h-1zM1023 461h1v2h-1zM971 462h1v2h-1zM1010 462h1v1h-1zM783 463h1v3h-1zM1011 463h1v2h-1zM1022 463h1v2h-1zM970 464h1v2h-1zM1012 465h1v1h-1zM1021 465h1v2h-1zM784 466h1v2h-1zM969 466h1v2h-1zM1013 466h2v1h-2zM1015 467h1v1h-1zM1019 467h2v1h-2zM785 468h1v2h-1zM968 468h1v2h-1zM1016 468h3v1h-3zM786 470h1v2h-1zM967 470h1v2h-1zM787 472h1v2h-1zM851 472h2v1h-2zM966 472h1v2h-1zM848 473h3v1h-3zM853 473h1v1h-1zM923 473h6v1h-6zM788 474h3v1h-3zM847 474h1v2h-1zM854 474h1v1h-1zM919 474h4v1h-4zM929 474h1v1h-1zM965 474h1v2h-1zM791 475h2v1h-2zM855 475h1v1h-1zM912 475h7v1h-7zM930 475h1v1h-1zM793 476h2v1h-2zM846 476h1v2h-1zM856 476h1v1h-1zM911 476h1v1h-1zM931 476h1v1h-1zM964 476h1v2h-1zM795 477h1v1h-1zM803 477h6v1h-6zM857 477h1v2h-1zM909 477h2v1h-2zM932 477h1v1h-1zM796 478h7v1h-7zM809 478h2v1h-2zM845 478h1v2h-1zM908 478h1v1h-1zM933 478h1v1h-1zM962 478h2v1h-2zM811 479h1v1h-1zM858 479h1v2h-1zM907 479h1v2h-1zM934 479h1v2h-1zM960 479h2v1h-2zM812 480h1v1h-1zM844 480h1v1h-1zM959 480h1v1h-1zM813 481h2v1h-2zM843 481h1v2h-1zM859 481h1v2h-1zM906 481h1v1h-1zM935 481h1v1h-1zM957 481h2v1h-2zM815 482h1v1h-1zM905 482h1v2h-1zM936 482h1v1h-1zM956 482h1v1h-1zM816 483h1v1h-1zM842 483h1v1h-1zM860 483h1v1h-1zM937 483h1v1h-1zM955 483h1v1h-1zM817 484h1v2h-1zM841 484h1v2h-1zM861 484h1v2h-1zM904 484h1v1h-1zM938 484h1v1h-1zM953 484h2v1h-2zM902 485h2v1h-2zM939 485h1v1h-1zM952 485h1v1h-1zM818 486h1v1h-1zM840 486h1v1h-1zM862 486h1v2h-1zM900 486h2v1h-2zM940 486h5v1h-5zM951 486h1v1h-1zM819 487h1v2h-1zM839 487h1v1h-1zM899 487h1v2h-1zM945 487h2v1h-2zM950 487h1v1h-1zM838 488h1v2h-1zM863 488h1v2h-1zM947 488h1v1h-1zM949 488h1v1h-1zM820 489h1v1h-1zM898 489h1v2h-1zM948 489h1v1h-1zM821 490h1v1h-1zM837 490h1v1h-1zM864 490h1v1h-1zM822 491h1v1h-1zM836 491h1v1h-1zM865 491h1v2h-1zM897 491h1v2h-1zM823 492h1v1h-1zM835 492h1v1h-1zM824 493h1v1h-1zM834 493h1v2h-1zM866 493h1v1h-1zM896 493h1v3h-1zM825 494h1v1h-1zM867 494h1v2h-1zM826 495h1v2h-1zM833 495h1v1h-1zM832 496h1v1h-1zM868 496h1v2h-1zM895 496h1v3h-1zM827 497h1v1h-1zM830 497h2v1h-2zM828 498h2v1h-2zM869 498h1v2h-1zM894 499h1v2h-1zM870 500h1v2h-1zM893 501h1v3h-1zM871 502h1v2h-1zM872 504h1v2h-1zM892 504h1v2h-1zM873 506h1v1h-1zM891 506h1v2h-1zM874 507h1v2h-1zM890 508h1v1h-1zM875 509h1v1h-1zM884 509h2v1h-2zM889 509h1v2h-1zM876 510h3v1h-3zM882 510h2v1h-2zM886 510h2v1h-2zM879 511h3v1h-3zM888 511h1v1h-1z" fill="#ffa500"/>
<path d="M95 93h4v1h-4zM92 94h3v1h-3zM99 94h4v1h-4zM52 95h10v1h-10zM91 95h1v1h-1zM103 95h4v1h-4zM50 96h2v1h-2zM62 96h2v1h-2zM89 96h2v1h-2zM107 96h8v1h-8zM28 97h3v1h-3zM48 97h2v1h-2zM64 97h2v1h-2zM88 97h1v1h-1zM115 97h4v1h-4zM26 98h2v1h-2zM31 98h3v1h-3zM46 98h2v1h-2zM66 98h2v1h-2zM87 98h1v1h-1zM119 98h4v1h-4zM24 99h2v1h-2zM34 99h2v1h-2zM43 99h3v1h-3zM68 99h2v1h-2zM86 99h1v1h-1zM123 99h2v1h-2zM22 100h2v1h-2zM36 100h7v1h-7zM70 100h2v1h-2zM85 100h1v1h-1zM125 100h2v1h-2zM20 101h2v1h-2zM72 101h7v1h-7zM83 101h2v1h-2zM127 101h1v1h-1zM19 102h1v1h-1zM79 102h4v1h-4zM128 102h1v1h-1zM17 103h2v1h-2zM129 103h2v1h-2zM16 104h1v1h-1zM131 104h1v1h-1zM15 105h1v1h-1zM132 105h1v1h-1zM14 106h1v1h-1zM133 106h1v1h-1zM13 107h1v1h-1zM134 107h1v1h-1zM12 108h1v1h-1zM135 108h1v1h-1zM10 109h2v1h-2zM136 109h1v1h-1zM8 110h2v1h-2zM137 110h2v1h-2zM6 111h2v1h-2zM139 111h1v1h-1zM4 112h2v1h-2zM140 112h1v1h-1zM141 113h2v1h-2zM143 114h1v1h-1zM144 115h1v1h-1zM145 116h1v1h-1zM146 117h1v2h-1zM147 119h1v1h-1zM148 120h3v1h-3zM151 121h2v1h-2zM153 122h2v1h-2zM155 123h1v1h-1zM156 124h1v1h-1zM157 125h1v1h-1zM158 126h1v2h-1zM159 128h1v1h-1zM160 129h1v2h-1zM161 131h1v2h-1zM162 133h1v2h-1zM163 135h1v2h-1zM164 137h1v2h-1zM165 139h1v2h-1zM166 141h1v2h-1zM167 143h1v2h-1zM168 145h1v3h-1zM169 148h1v2h-1zM170 150h1v2h-1zM171 152h1v2h-1zM172 154h1v2h-1zM173 156h1v2h-1zM174 158h1v1h-1zM175 159h1v2h-1zM176 161h1v1h-1zM177 162h1v1h-1zM178 163h1v1h-1zM179 164h1v1h-1zM180 165h1v1h-1zM181 166h1v1h-1zM182 167h1v1h-1zM183 168h1v1h-1zM184 169h1v1h-1zM185 170h1v1h-1zM186 171h1v1h-1zM187 172h1v1h-1zM188 173h1v1h-1zM189 174h2v1h-2zM191 175h1v1h-1zM192 176h1v1h-1zM193 177h1v1h-1zM194 178h1v1h-1zM195 179h1v1h-1zM196 180h1v1h-1zM197 181h2v1h-2zM199 182h1v1h-1zM200 183h2v1h-2zM202 184h2v1h-2zM204 185h1v1h-1zM205 186h1v1h-1zM206 187h1v2h-1zM207 189h1v1h-1zM208 190h1v1h-1zM209 191h1v2h-1zM210 193h1v1h-1zM211 194h1v2h-1zM228 195h6v1h-6zM212 196h1v1h-1zM227 196h1v1h-1zM234 196h2v1h-2zM213 197h2v1h-2zM225 197h2v1h-2zM236 197h2v1h-2zM215 198h1v1h-1zM223 198h2v1h-2zM238 198h2v1h-2zM216 199h7v1h-7zM240 199h3v1h-3zM243 200h3v1h-3zM246 201h2v1h-2zM248 202h2v1h-2zM250 203h2v1h-2zM252 204h1v1h-1zM253 205h2v1h-2zM255 206h1v1h-1zM256 207h1v1h-1zM257 208h1v1h-1zM258 209h1v1h-1zM259 210h1v1h-1zM260 211h1v1h-1zM261 212h2v1h-2zM263 213h1v1h-1zM264 214h3v1h-3zM267 215h2v1h-2zM269 216h2v1h-2zM271 217h1v1h-1zM272 218h2v1h-2zM274 219h2v1h-2zM276 220h1v1h-1zM277 221h2v1h-2zM279 222h1v1h-1zM280 223h1v1h-1zM281 224h2v1h-2zM283 225h1v1h-1zM284 226h2v1h-2zM286 227h2v1h-2zM288 228h2v1h-2zM290 229h2v1h-2zM292 230h2v1h-2zM294 231h2v1h-2zM296 232h2v1h-2zM298 233h2v1h-2zM300 234h1v1h-1zM301 235h2v1h-2zM303 236h1v1h-1zM304 237h1v1h-1zM305 238h2v1h-2zM307 239h1v1h-1zM308 240h1v1h-1zM309 241h1v1h-1zM310 242h1v1h-1zM311 243h1v1h-1zM312 244h1v1h-1zM313 245h1v2h-1zM314 247h1v1h-1zM315 248h1v2h-1zM1192 249h1v1h-1zM316 250h1v1h-1zM1190 250h2v1h-2zM1193 250h2v1h-2zM317 251h1v1h-1zM1187 251h3v1h-3zM1195 251h1v1h-1zM318 252h1v2h-1zM1184 252h3v1h-3zM1196 252h1v1h-1zM1182 253h2v1h-2zM1197 253h2v1h-2zM319 254h1v1h-1zM1180 254h2v1h-2zM1199 254h1v1h-1zM320 255h1v1h-1zM1179 255h1v1h-1zM1200 255h1v1h-1zM321 256h1v2h-1zM1178 256h1v1h-1zM1201 256h1v1h-1zM1177 257h1v1h-1zM1202 257h1v2h-1zM322 258h1v1h-1zM1176 258h1v1h-1zM323 259h1v2h-1zM1175 259h1v1h-1zM1203 259h1v1h-1zM1174 260h1v2h-1zM1204 260h1v1h-1zM324 261h1v1h-1zM1205 261h1v2h-1zM325 262h1v2h-1zM1173 262h1v1h-1zM1172 263h1v1h-1zM1206 263h1v1h-1zM326 264h1v1h-1zM1171 264h1v1h-1zM1207 264h1v2h-1zM327 265h1v2h-1zM1170 265h1v2h-1zM1208 266h1v1h-1zM328 267h1v2h-1zM1169 267h1v1h-1zM1209 267h1v2h-1zM1168 268h1v1h-1zM329 269h1v2h-1zM1167 269h1v1h-1zM1210 269h1v1h-1zM1166 270h1v1h-1zM1211 270h1v2h-1zM330 271h1v2h-1zM1165 271h1v1h-1zM1164 272h1v1h-1zM1212 272h1v1h-1zM331 273h1v2h-1zM1163 273h1v1h-1zM1213 273h1v1h-1zM1162 274h1v2h-1zM1214 274h1v2h-1zM332 275h1v3h-1zM1161 276h1v1h-1zM1215 276h1v1h-1zM1160 277h1v1h-1zM1216 277h1v1h-1zM333 278h1v2h-1zM1159 278h1v1h-1zM1217 278h1v2h-1zM1157 279h2v1h-2zM334 280h1v2h-1zM1156 280h1v1h-1zM1218 280h1v2h-1zM1155 281h1v1h-1zM335 282h1v2h-1zM1154 282h1v1h-1zM1219 282h1v2h-1zM1153 283h1v1h-1zM336 284h1v3h-1zM1152 284h1v1h-1zM1220 284h1v1h-1zM1151 285h1v1h-1zM1221 285h1v2h-1zM1149 286h2v1h-2zM337 287h1v2h-1zM1148 287h1v1h-1zM1222 287h1v2h-1zM1131 288h2v1h-2zM1147 288h1v1h-1zM338 289h1v2h-1zM1128 289h3v1h-3zM1133 289h2v1h-2zM1145 289h2v1h-2zM1223 289h1v2h-1zM1127 290h1v1h-1zM1135 290h1v1h-1zM1139 290h6v1h-6zM339 291h1v2h-1zM1126 291h1v2h-1zM1136 291h3v1h-3zM1224 291h1v1h-1zM1225 292h1v2h-1zM340 293h1v3h-1zM1125 293h1v1h-1zM1124 294h1v1h-1zM1226 294h1v2h-1zM1123 295h1v1h-1zM341 296h1v2h-1zM1122 296h1v1h-1zM1227 296h1v2h-1zM1121 297h1v1h-1zM342 298h1v3h-1zM1120 298h1v1h-1zM1228 298h1v2h-1zM1119 299h1v1h-1zM1118 300h1v2h-1zM1229 300h1v2h-1zM343 301h1v2h-1zM1117 302h1v1h-1zM1230 302h1v2h-1zM344 303h1v3h-1zM1116 303h1v1h-1zM1115 304h1v1h-1zM1231 304h1v2h-1zM1114 305h1v2h-1zM345 306h1v2h-1zM1232 306h1v3h-1zM1113 307h1v1h-1zM346 308h1v3h-1zM1112 308h1v1h-1zM1111 309h1v2h-1zM1233 309h1v2h-1zM347 311h1v2h-1zM1110 311h1v2h-1zM1234 311h1v2h-1zM348 313h1v2h-1zM1109 313h1v2h-1zM1235 313h1v2h-1zM349 315h1v2h-1zM1108 315h1v3h-1zM1236 315h1v2h-1zM350 317h1v2h-1zM1237 317h1v2h-1zM1107 318h1v2h-1zM351 319h1v2h-1zM1238 319h1v1h-1zM1106 320h1v2h-1zM1239 320h1v2h-1zM352 321h1v1h-1zM353 322h1v2h-1zM1105 322h1v2h-1zM1240 322h1v1h-1zM1241 323h1v1h-1zM354 324h1v2h-1zM1104 324h1v2h-1zM1242 324h1v2h-1zM355 326h1v2h-1zM572 326h7v1h-7zM1103 326h1v2h-1zM1243 326h1v1h-1zM570 327h2v1h-2zM579 327h2v1h-2zM1244 327h1v1h-1zM356 328h1v2h-1zM568 328h2v1h-2zM581 328h1v1h-1zM1102 328h1v1h-1zM1245 328h1v1h-1zM566 329h2v1h-2zM582 329h1v1h-1zM1101 329h1v2h-1zM1246 329h1v1h-1zM357 330h1v3h-1zM564 330h2v1h-2zM583 330h1v1h-1zM1247 330h1v1h-1zM563 331h1v1h-1zM584 331h1v1h-1zM1100 331h1v2h-1zM1248 331h1v1h-1zM562 332h1v1h-1zM585 332h1v2h-1zM1249 332h1v1h-1zM358 333h1v3h-1zM561 333h1v1h-1zM1099 333h1v2h-1zM1250 333h1v1h-1zM560 334h1v1h-1zM586 334h1v1h-1zM1251 334h1v1h-1zM559 335h1v1h-1zM587 335h1v2h-1zM1098 335h1v2h-1zM1252 335h1v1h-1zM359 336h1v3h-1zM558 336h1v1h-1zM1253 336h1v1h-1zM557 337h1v1h-1zM588 337h1v1h-1zM1097 337h1v2h-1zM1254 337h1v1h-1zM556 338h1v1h-1zM589 338h1v2h-1zM1255 338h1v1h-1zM360 339h1v3h-1zM555 339h1v1h-1zM1096 339h1v3h-1zM1256 339h1v1h-1zM553 340h2v1h-2zM590 340h1v1h-1zM552 341h1v1h-1zM591 341h1v2h-1zM361 342h1v2h-1zM551 342h1v1h-1zM1095 342h1v3h-1zM550 343h1v1h-1zM592 343h1v1h-1zM362 344h1v2h-1zM549 344h1v1h-1zM593 344h1v1h-1zM548 345h1v1h-1zM594 345h1v2h-1zM1094 345h1v2h-1zM363 346h1v2h-1zM547 346h1v1h-1zM546 347h1v1h-1zM595 347h1v1h-1zM1093 347h1v3h-1zM364 348h1v1h-1zM545 348h1v1h-1zM596 348h1v1h-1zM365 349h1v1h-1zM544 349h1v1h-1zM597 349h1v1h-1zM366 350h1v2h-1zM543 350h1v1h-1zM598 350h1v1h-1zM1092 350h1v3h-1zM542 351h1v2h-1zM599 351h1v1h-1zM367 352h1v1h-1zM600 352h1v1h-1zM368 353h1v1h-1zM541 353h1v1h-1zM601 353h2v1h-2zM1091 353h1v3h-1zM369 354h2v1h-2zM540 354h1v1h-1zM603 354h1v1h-1zM371 355h1v1h-1zM539 355h1v2h-1zM604 355h3v1h-3zM372 356h1v1h-1zM607 356h6v1h-6zM1090 356h1v2h-1zM373 357h2v1h-2zM538 357h1v2h-1zM613 357h1v1h-1zM375 358h1v1h-1zM614 358h1v1h-1zM1089 358h1v3h-1zM376 359h2v1h-2zM537 359h1v2h-1zM615 359h1v1h-1zM378 360h2v1h-2zM616 360h1v1h-1zM380 361h1v1h-1zM536 361h1v1h-1zM617 361h1v1h-1zM1088 361h1v3h-1zM381 362h2v1h-2zM535 362h1v1h-1zM618 362h1v2h-1zM383 363h1v1h-1zM534 363h1v2h-1zM384 364h2v1h-2zM619 364h1v1h-1zM1087 364h1v4h-1zM386 365h2v1h-2zM533 365h1v1h-1zM620 365h1v1h-1zM388 366h2v1h-2zM532 366h1v1h-1zM621 366h1v1h-1zM390 367h2v1h-2zM531 367h1v1h-1zM622 367h1v1h-1zM392 368h6v1h-6zM529 368h2v1h-2zM623 368h1v1h-1zM740 368h6v1h-6zM1086 368h1v3h-1zM398 369h2v1h-2zM528 369h1v1h-1zM624 369h2v1h-2zM739 369h1v1h-1zM746 369h2v1h-2zM400 370h1v1h-1zM527 370h1v1h-1zM626 370h2v1h-2zM703 370h4v1h-4zM738 370h1v1h-1zM748 370h1v1h-1zM401 371h1v1h-1zM525 371h2v1h-2zM628 371h1v1h-1zM700 371h3v1h-3zM707 371h4v1h-4zM737 371h1v1h-1zM749 371h1v1h-1zM1085 371h1v4h-1zM402 372h1v1h-1zM524 372h1v1h-1zM629 372h1v1h-1zM699 372h1v1h-1zM711 372h2v1h-2zM736 372h1v1h-1zM750 372h1v2h-1zM403 373h1v1h-1zM523 373h1v1h-1zM630 373h1v1h-1zM697 373h2v1h-2zM713 373h2v1h-2zM735 373h1v1h-1zM404 374h1v1h-1zM521 374h2v1h-2zM631 374h1v1h-1zM696 374h1v1h-1zM715 374h1v1h-1zM734 374h1v2h-1zM751 374h1v1h-1zM405 375h2v1h-2zM504 375h17v1h-17zM632 375h1v1h-1zM695 375h1v1h-1zM716 375h1v1h-1zM752 375h1v1h-1zM1084 375h1v3h-1zM407 376h1v1h-1zM416 376h7v1h-7zM503 376h1v1h-1zM633 376h1v1h-1zM693 376h2v1h-2zM717 376h2v1h-2zM733 376h1v1h-1zM753 376h2v1h-2zM408 377h2v1h-2zM415 377h1v1h-1zM423 377h4v1h-4zM501 377h2v1h-2zM634 377h1v2h-1zM664 377h3v1h-3zM671 377h4v1h-4zM692 377h1v1h-1zM719 377h1v1h-1zM731 377h2v1h-2zM755 377h1v1h-1zM410 378h2v1h-2zM413 378h2v1h-2zM427 378h3v1h-3zM499 378h2v1h-2zM662 378h2v1h-2zM667 378h4v1h-4zM675 378h4v1h-4zM691 378h1v1h-1zM720 378h11v1h-11zM756 378h1v1h-1zM1083 378h1v3h-1zM412 379h1v1h-1zM430 379h2v1h-2zM495 379h4v1h-4zM635 379h1v1h-1zM656 379h6v1h-6zM679 379h2v1h-2zM689 379h2v1h-2zM757 379h2v1h-2zM432 380h1v1h-1zM491 380h4v1h-4zM636 380h6v1h-6zM654 380h2v1h-2zM681 380h2v1h-2zM688 380h1v1h-1zM759 380h1v1h-1zM433 381h2v1h-2zM479 381h12v1h-12zM642 381h2v1h-2zM651 381h3v1h-3zM683 381h1v1h-1zM686 381h2v1h-2zM760 381h1v1h-1zM1082 381h1v2h-1zM435 382h1v1h-1zM475 382h4v1h-4zM644 382h7v1h-7zM684 382h2v1h-2zM761 382h1v1h-1zM436 383h1v1h-1zM471 383h4v1h-4zM762 383h1v1h-1zM1081 383h1v3h-1zM437 384h2v1h-2zM467 384h4v1h-4zM763 384h1v1h-1zM439 385h1v1h-1zM463 385h4v1h-4zM764 385h1v1h-1zM440 386h3v1h-3zM460 386h3v1h-3zM765 386h1v1h-1zM1080 386h1v3h-1zM443 387h2v1h-2zM459 387h1v1h-1zM766 387h1v2h-1zM445 388h2v1h-2zM457 388h2v1h-2zM447 389h1v1h-1zM456 389h1v1h-1zM767 389h1v1h-1zM1079 389h1v3h-1zM448 390h3v1h-3zM454 390h2v1h-2zM768 390h1v1h-1zM451 391h3v1h-3zM769 391h1v2h-1zM1078 392h1v2h-1zM770 393h1v2h-1zM1077 394h1v3h-1zM771 395h1v2h-1zM772 397h1v1h-1zM1076 397h1v3h-1zM773 398h1v2h-1zM774 400h1v1h-1zM1075 400h1v3h-1zM775 401h1v2h-1zM776 403h1v1h-1zM1074 403h1v3h-1zM777 404h1v2h-1zM778 406h1v2h-1zM1073 406h1v3h-1zM779 408h1v2h-1zM1072 409h1v3h-1zM780 410h1v2h-1zM781 412h1v2h-1zM1071 412h1v2h-1zM782 414h1v2h-1zM1070 414h1v2h-1zM783 416h1v2h-1zM1069 416h1v2h-1zM784 418h1v1h-1zM1068 418h1v2h-1zM785 419h1v2h-1zM1067 420h1v2h-1zM786 421h1v2h-1zM1066 422h1v2h-1zM787 423h1v2h-1zM1065 424h1v2h-1zM788 425h1v2h-1zM1064 426h1v1h-1zM789 427h1v2h-1zM1063 427h1v2h-1zM790 429h1v2h-1zM1062 429h1v2h-1zM791 431h1v2h-1zM1061 431h1v2h-1zM792 433h1v2h-1zM1060 433h1v2h-1zM793 435h1v2h-1zM1059 435h1v2h-1zM794 437h1v2h-1zM1058 437h1v1h-1zM1057 438h1v2h-1zM795 439h1v2h-1zM1056 440h1v1h-1zM796 441h1v2h-1zM1055 441h1v1h-1zM1054 442h1v2h-1zM797 443h1v2h-1zM1053 444h1v1h-1zM798 445h1v1h-1zM1052 445h1v1h-1zM799 446h1v2h-1zM1051 446h1v1h-1zM1019 447h11v1h-11zM1049 447h2v1h-2zM800 448h1v1h-1zM1011 448h8v1h-8zM1030 448h2v1h-2zM1048 448h1v1h-1zM801 449h1v2h-1zM1007 449h4v1h-4zM1032 449h2v1h-2zM1047 449h1v1h-1zM1003 450h4v1h-4zM1034 450h2v1h-2zM1046 450h1v1h-1zM802 451h1v1h-1zM996 451h7v1h-7zM1036 451h3v1h-3zM1045 451h1v1h-1zM803 452h1v2h-1zM995 452h1v1h-1zM1039 452h6v1h-6zM993 453h2v1h-2zM804 454h1v1h-1zM992 454h1v1h-1zM805 455h1v1h-1zM991 455h1v1h-1zM806 456h1v2h-1zM990 456h1v1h-1zM989 457h1v1h-1zM807 458h1v1h-1zM988 458h1v1h-1zM808 459h1v1h-1zM987 459h1v1h-1zM809 460h1v2h-1zM986 460h1v2h-1zM810 462h1v1h-1zM985 462h1v1h-1zM811 463h1v2h-1zM984 463h1v1h-1zM983 464h1v1h-1zM812 465h1v1h-1zM981 465h2v1h-2zM813 466h1v2h-1zM980 466h1v1h-1zM979 467h1v1h-1zM814 468h1v2h-1zM978 468h1v2h-1zM815 470h1v2h-1zM977 470h1v1h-1zM976 471h1v1h-1zM816 472h1v1h-1zM975 472h1v1h-1zM817 473h1v2h-1zM973 473h2v1h-2zM972 474h1v1h-1zM818 475h1v1h-1zM971 475h1v1h-1zM819 476h1v2h-1zM969 476h2v1h-2zM968 477h1v1h-1zM820 478h1v1h-1zM966 478h2v1h-2zM821 479h2v1h-2zM944 479h7v1h-7zM959 479h7v1h-7zM823 480h1v1h-1zM942 480h2v1h-2zM951 480h8v1h-8zM824 481h1v1h-1zM939 481h3v1h-3zM825 482h2v1h-2zM851 482h3v1h-3zM935 482h4v1h-4zM827 483h1v1h-1zM847 483h4v1h-4zM854 483h2v1h-2zM932 483h3v1h-3zM828 484h3v1h-3zM843 484h4v1h-4zM856 484h1v1h-1zM930 484h2v1h-2zM831 485h12v1h-12zM857 485h2v1h-2zM928 485h2v1h-2zM859 486h1v1h-1zM927 486h1v1h-1zM860 487h3v1h-3zM926 487h1v1h-1zM863 488h4v1h-4zM925 488h1v1h-1zM867 489h4v1h-4zM923 489h2v1h-2zM871 490h3v1h-3zM920 490h3v1h-3zM874 491h2v1h-2zM918 491h2v1h-2zM876 492h3v1h-3zM883 492h3v1h-3zM916 492h2v1h-2zM879 493h4v1h-4zM886 493h2v1h-2zM915 493h1v1h-1zM888 494h3v1h-3zM913 494h2v1h-2zM891 495h11v1h-11zM912 495h1v1h-1zM902 496h2v1h-2zM910 496h2v1h-2zM904 497h6v1h-6z" fill="#ff0000"/>
<path d="M115 95h4v1h-4zM107 96h8v1h-8zM119 96h4v1h-4zM103 97h4v1h-4zM123 97h3v1h-3zM91 98h12v1h-12zM126 98h2v1h-2zM4 99h2v1h-2zM88 99h3v1h-3zM128 99h2v1h-2zM6 100h2v1h-2zM86 100h2v1h-2zM130 100h2v1h-2zM8 101h2v1h-2zM44 101h15v1h-15zM83 101h3v1h-3zM132 101h1v1h-1zM10 102h2v1h-2zM42 102h2v1h-2zM59 102h4v1h-4zM79 102h4v1h-4zM133 102h2v1h-2zM12 103h3v1h-3zM39 103h3v1h-3zM63 103h16v1h-16zM135 103h1v1h-1zM15 104h4v1h-4zM35 104h4v1h-4zM136 104h2v1h-2zM19 105h4v1h-4zM31 105h4v1h-4zM138 105h2v1h-2zM23 106h8v1h-8zM140 106h2v1h-2zM142 107h2v1h-2zM144 108h3v1h-3zM147 109h12v1h-12zM159 110h2v1h-2zM161 111h1v1h-1zM162 112h1v1h-1zM163 113h1v1h-1zM164 114h1v1h-1zM165 115h1v1h-1zM166 116h1v1h-1zM167 117h1v1h-1zM168 118h1v1h-1zM169 119h1v2h-1zM170 121h1v1h-1zM171 122h1v2h-1zM172 124h1v1h-1zM173 125h2v1h-2zM175 126h1v1h-1zM176 127h1v1h-1zM177 128h2v1h-2zM179 129h1v1h-1zM180 130h1v1h-1zM181 131h2v1h-2zM183 132h1v1h-1zM184 133h1v1h-1zM185 134h2v1h-2zM187 135h1v1h-1zM188 136h1v1h-1zM189 137h2v1h-2zM191 138h1v1h-1zM192 139h1v1h-1zM193 140h2v1h-2zM195 141h1v1h-1zM196 142h1v1h-1zM197 143h2v1h-2zM199 144h1v1h-1zM200 145h1v1h-1zM201 146h1v1h-1zM202 147h1v1h-1zM203 148h1v1h-1zM204 149h1v1h-1zM205 150h2v1h-2zM207 151h1v1h-1zM208 152h1v1h-1zM209 153h1v1h-1zM210 154h1v2h-1zM211 156h1v1h-1zM212 157h2v1h-2zM214 158h2v1h-2zM216 159h1v1h-1zM217 160h1v1h-1zM218 161h1v1h-1zM219 162h1v1h-1zM220 163h1v1h-1zM221 164h1v1h-1zM222 165h1v1h-1zM223 166h1v1h-1zM224 167h1v1h-1zM225 168h2v1h-2zM227 169h1v1h-1zM228 170h1v1h-1zM229 171h1v1h-1zM230 172h1v1h-1zM231 173h1v1h-1zM232 174h2v1h-2zM234 175h2v1h-2zM236 176h1v1h-1zM237 177h1v1h-1zM238 178h1v1h-1zM239 179h1v1h-1zM240 180h1v1h-1zM241 181h2v1h-2zM243 182h1v1h-1zM244 183h1v1h-1zM245 184h2v1h-2zM247 185h1v1h-1zM248 186h2v1h-2zM250 187h2v1h-2zM252 188h1v1h-1zM253 189h2v1h-2zM255 190h1v1h-1zM256 191h1v1h-1zM257 192h1v1h-1zM258 193h1v1h-1zM259 194h1v1h-1zM260 195h1v1h-1zM261 196h2v1h-2zM263 197h1v1h-1zM264 198h1v1h-1zM265 199h2v1h-2zM267 200h1v1h-1zM268 201h1v1h-1zM269 202h1v1h-1zM270 203h1v1h-1zM271 204h1v1h-1zM272 205h1v1h-1zM273 206h2v1h-2zM275 207h1v1h-1zM276 208h2v1h-2zM278 209h2v1h-2zM280 210h2v1h-2zM282 211h2v1h-2zM291 211h3v1h-3zM284 212h7v1h-7zM294 212h2v1h-2zM296 213h1v1h-1zM297 214h2v1h-2zM299 215h1v1h-1zM300 216h3v1h-3zM303 217h2v1h-2zM305 218h2v1h-2zM307 219h1v1h-1zM308 220h1v1h-1zM309 221h2v1h-2zM311 222h1v1h-1zM312 223h1v1h-1zM313 224h1v1h-1zM314 225h1v1h-1zM315 226h1v1h-1zM316 227h1v1h-1zM317 228h1v1h-1zM318 229h1v2h-1zM319 231h1v1h-1zM320 232h1v1h-1zM321 233h1v1h-1zM322 234h1v2h-1zM323 236h1v1h-1zM324 237h1v1h-1zM325 238h1v1h-1zM326 239h1v1h-1zM327 240h1v1h-1zM328 241h1v1h-1zM329 242h1v1h-1zM330 243h1v1h-1zM331 244h1v1h-1zM332 245h1v1h-1zM333 246h1v1h-1zM334 247h1v2h-1zM335 249h1v1h-1zM336 250h1v1h-1zM337 251h1v2h-1zM338 253h1v1h-1zM339 254h1v2h-1zM340 256h1v1h-1zM341 257h1v2h-1zM342 259h1v1h-1zM343 260h1v2h-1zM344 262h1v1h-1zM345 263h1v1h-1zM346 264h1v2h-1zM347 266h1v1h-1zM348 267h1v1h-1zM349 268h1v1h-1zM350 269h1v2h-1zM351 271h1v1h-1zM352 272h1v1h-1zM1191 272h8v1h-8zM353 273h1v1h-1zM1188 273h3v1h-3zM1199 273h4v1h-4zM354 274h1v2h-1zM1187 274h1v1h-1zM1203 274h3v1h-3zM1185 275h2v1h-2zM1206 275h2v1h-2zM355 276h1v1h-1zM1184 276h1v1h-1zM1208 276h3v1h-3zM356 277h1v1h-1zM1183 277h1v1h-1zM1211 277h4v1h-4zM357 278h1v2h-1zM1181 278h2v1h-2zM1215 278h4v1h-4zM1180 279h1v1h-1zM1219 279h4v1h-4zM358 280h1v1h-1zM1179 280h1v1h-1zM1223 280h3v1h-3zM359 281h1v2h-1zM1178 281h1v2h-1zM1226 281h2v1h-2zM1228 282h2v1h-2zM360 283h1v1h-1zM1177 283h1v1h-1zM1230 283h2v1h-2zM361 284h1v2h-1zM1176 284h1v1h-1zM1232 284h2v1h-2zM1175 285h1v2h-1zM1234 285h2v1h-2zM362 286h1v1h-1zM1236 286h3v1h-3zM363 287h1v2h-1zM1174 287h1v1h-1zM1239 287h3v1h-3zM1173 288h1v2h-1zM1242 288h2v1h-2zM364 289h1v1h-1zM1244 289h2v1h-2zM365 290h1v1h-1zM1172 290h1v1h-1zM1246 290h2v1h-2zM366 291h1v2h-1zM1171 291h1v2h-1zM1248 291h1v1h-1zM1249 292h2v1h-2zM367 293h1v1h-1zM1170 293h1v1h-1zM1251 293h1v1h-1zM368 294h1v1h-1zM1169 294h1v2h-1zM1252 294h3v1h-3zM369 295h1v1h-1zM1255 295h2v1h-2zM370 296h1v2h-1zM1168 296h1v1h-1zM1167 297h1v1h-1zM371 298h1v1h-1zM1166 298h1v2h-1zM372 299h1v1h-1zM373 300h1v1h-1zM1165 300h1v1h-1zM374 301h1v1h-1zM1164 301h1v1h-1zM375 302h1v1h-1zM1163 302h1v2h-1zM376 303h1v1h-1zM377 304h2v1h-2zM1162 304h1v2h-1zM379 305h1v1h-1zM380 306h1v1h-1zM1161 306h1v2h-1zM381 307h1v1h-1zM382 308h1v2h-1zM1160 308h1v1h-1zM1159 309h1v2h-1zM383 310h1v1h-1zM384 311h1v1h-1zM1158 311h1v1h-1zM385 312h1v1h-1zM1157 312h1v2h-1zM386 313h1v1h-1zM387 314h1v1h-1zM1156 314h1v1h-1zM388 315h1v1h-1zM1155 315h1v2h-1zM389 316h1v1h-1zM390 317h1v2h-1zM1154 317h1v2h-1zM391 319h1v1h-1zM1153 319h1v2h-1zM392 320h1v1h-1zM393 321h1v1h-1zM1152 321h1v1h-1zM394 322h1v2h-1zM1151 322h1v2h-1zM395 324h1v1h-1zM1150 324h1v2h-1zM396 325h1v1h-1zM397 326h1v2h-1zM1149 326h1v2h-1zM398 328h1v1h-1zM1148 328h1v1h-1zM399 329h1v2h-1zM1147 329h1v2h-1zM400 331h1v1h-1zM1146 331h1v1h-1zM401 332h1v1h-1zM1145 332h1v2h-1zM402 333h1v2h-1zM1144 334h1v1h-1zM403 335h1v1h-1zM1143 335h1v2h-1zM404 336h1v1h-1zM405 337h1v1h-1zM1142 337h1v1h-1zM406 338h1v2h-1zM1141 338h1v2h-1zM407 340h1v1h-1zM1140 340h1v1h-1zM408 341h1v1h-1zM1139 341h1v2h-1zM409 342h1v2h-1zM1138 343h1v1h-1zM410 344h1v1h-1zM1137 344h1v2h-1zM411 345h1v2h-1zM1136 346h1v1h-1zM412 347h1v1h-1zM1135 347h1v2h-1zM413 348h1v1h-1zM414 349h1v1h-1zM1134 349h1v1h-1zM415 350h1v1h-1zM579 350h4v1h-4zM611 350h12v1h-12zM1133 350h1v2h-1zM416 351h1v1h-1zM575 351h4v1h-4zM583 351h8v1h-8zM607 351h4v1h-4zM623 351h8v1h-8zM417 352h1v1h-1zM572 352h3v1h-3zM591 352h4v1h-4zM603 352h4v1h-4zM631 352h7v1h-7zM1132 352h1v1h-1zM418 353h1v1h-1zM570 353h2v1h-2zM595 353h8v1h-8zM638 353h2v1h-2zM1131 353h1v1h-1zM419 354h1v1h-1zM568 354h2v1h-2zM640 354h2v1h-2zM1130 354h1v2h-1zM420 355h1v1h-1zM566 355h2v1h-2zM642 355h2v1h-2zM421 356h1v1h-1zM564 356h2v1h-2zM644 356h2v1h-2zM1129 356h1v1h-1zM422 357h1v1h-1zM562 357h2v1h-2zM646 357h2v1h-2zM1128 357h1v1h-1zM423 358h1v1h-1zM560 358h2v1h-2zM648 358h2v1h-2zM1127 358h1v2h-1zM424 359h1v1h-1zM559 359h1v1h-1zM650 359h2v1h-2zM425 360h1v1h-1zM557 360h2v1h-2zM652 360h2v1h-2zM1126 360h1v1h-1zM426 361h1v1h-1zM556 361h1v1h-1zM654 361h2v1h-2zM1125 361h1v2h-1zM427 362h1v1h-1zM554 362h2v1h-2zM656 362h3v1h-3zM428 363h1v1h-1zM551 363h3v1h-3zM659 363h4v1h-4zM1124 363h1v1h-1zM429 364h2v1h-2zM548 364h3v1h-3zM663 364h3v1h-3zM1123 364h1v2h-1zM431 365h1v1h-1zM546 365h2v1h-2zM666 365h2v1h-2zM432 366h1v1h-1zM544 366h2v1h-2zM668 366h3v1h-3zM1122 366h1v1h-1zM433 367h2v1h-2zM542 367h2v1h-2zM671 367h4v1h-4zM1121 367h1v2h-1zM435 368h1v1h-1zM540 368h2v1h-2zM675 368h2v1h-2zM436 369h1v1h-1zM539 369h1v1h-1zM677 369h1v1h-1zM1120 369h1v1h-1zM437 370h2v1h-2zM537 370h2v1h-2zM678 370h1v1h-1zM1119 370h1v2h-1zM439 371h1v1h-1zM536 371h1v1h-1zM679 371h1v1h-1zM440 372h2v1h-2zM534 372h2v1h-2zM680 372h1v1h-1zM1118 372h1v1h-1zM442 373h2v1h-2zM532 373h2v1h-2zM681 373h2v1h-2zM1117 373h1v2h-1zM444 374h1v1h-1zM531 374h1v1h-1zM683 374h1v1h-1zM445 375h2v1h-2zM529 375h2v1h-2zM684 375h3v1h-3zM711 375h4v1h-4zM1116 375h1v1h-1zM447 376h1v1h-1zM528 376h1v1h-1zM687 376h12v1h-12zM703 376h8v1h-8zM715 376h8v1h-8zM739 376h24v1h-24zM1115 376h1v1h-1zM448 377h2v1h-2zM526 377h2v1h-2zM699 377h4v1h-4zM723 377h8v1h-8zM735 377h4v1h-4zM763 377h3v1h-3zM1114 377h1v2h-1zM450 378h2v1h-2zM479 378h4v1h-4zM524 378h2v1h-2zM731 378h4v1h-4zM766 378h2v1h-2zM452 379h19v1h-19zM475 379h4v1h-4zM483 379h8v1h-8zM523 379h1v1h-1zM768 379h1v1h-1zM1113 379h1v1h-1zM471 380h4v1h-4zM491 380h4v1h-4zM521 380h2v1h-2zM769 380h1v1h-1zM1112 380h1v1h-1zM495 381h4v1h-4zM519 381h2v1h-2zM770 381h1v1h-1zM1111 381h1v1h-1zM499 382h4v1h-4zM515 382h4v1h-4zM771 382h1v1h-1zM1110 382h1v2h-1zM503 383h12v1h-12zM772 383h1v1h-1zM773 384h1v1h-1zM1109 384h1v1h-1zM774 385h1v1h-1zM1108 385h1v1h-1zM775 386h1v1h-1zM1107 386h1v1h-1zM776 387h1v1h-1zM1106 387h1v1h-1zM777 388h1v1h-1zM1105 388h1v1h-1zM778 389h1v1h-1zM1104 389h1v1h-1zM779 390h1v1h-1zM1103 390h1v1h-1zM780 391h1v1h-1zM1102 391h1v2h-1zM781 392h1v1h-1zM782 393h1v2h-1zM1101 393h1v1h-1zM1100 394h1v1h-1zM783 395h1v1h-1zM1099 395h1v1h-1zM784 396h1v1h-1zM1097 396h2v1h-2zM785 397h1v1h-1zM1096 397h1v1h-1zM786 398h1v1h-1zM1095 398h1v1h-1zM787 399h1v1h-1zM1094 399h1v2h-1zM788 400h1v1h-1zM789 401h2v1h-2zM1093 401h1v1h-1zM791 402h1v1h-1zM1092 402h1v1h-1zM792 403h1v1h-1zM1091 403h1v1h-1zM793 404h2v1h-2zM1090 404h1v2h-1zM795 405h1v1h-1zM796 406h2v1h-2zM1089 406h1v1h-1zM798 407h2v1h-2zM1088 407h1v1h-1zM800 408h3v1h-3zM1087 408h1v2h-1zM803 409h2v1h-2zM805 410h1v1h-1zM1086 410h1v1h-1zM806 411h1v1h-1zM1085 411h1v2h-1zM807 412h1v1h-1zM808 413h1v1h-1zM1084 413h1v1h-1zM809 414h1v1h-1zM1083 414h1v2h-1zM810 415h1v1h-1zM811 416h1v1h-1zM1082 416h1v2h-1zM812 417h1v1h-1zM813 418h1v1h-1zM1081 418h1v2h-1zM814 419h1v2h-1zM1080 420h1v1h-1zM815 421h1v1h-1zM1079 421h1v2h-1zM816 422h1v1h-1zM817 423h1v1h-1zM1078 423h1v1h-1zM818 424h1v2h-1zM1077 424h1v2h-1zM819 426h1v1h-1zM1076 426h1v1h-1zM820 427h1v1h-1zM1075 427h1v2h-1zM821 428h1v1h-1zM822 429h1v1h-1zM1074 429h1v1h-1zM823 430h1v1h-1zM1073 430h1v2h-1zM824 431h1v1h-1zM825 432h1v1h-1zM1072 432h1v1h-1zM826 433h1v2h-1zM1071 433h1v1h-1zM1070 434h1v1h-1zM827 435h1v1h-1zM1069 435h1v1h-1zM828 436h1v1h-1zM1068 436h1v1h-1zM829 437h1v1h-1zM1067 437h1v1h-1zM830 438h1v1h-1zM1066 438h1v1h-1zM831 439h1v1h-1zM1065 439h1v1h-1zM832 440h1v1h-1zM1064 440h1v1h-1zM833 441h2v1h-2zM1063 441h1v1h-1zM835 442h1v1h-1zM1062 442h1v1h-1zM836 443h1v1h-1zM1061 443h1v1h-1zM837 444h2v1h-2zM1060 444h1v1h-1zM839 445h1v1h-1zM1059 445h1v1h-1zM840 446h1v1h-1zM1058 446h1v1h-1zM841 447h2v1h-2zM1057 447h1v1h-1zM843 448h1v1h-1zM1056 448h1v1h-1zM844 449h1v1h-1zM1055 449h1v1h-1zM845 450h2v1h-2zM1053 450h2v1h-2zM847 451h1v1h-1zM1052 451h1v1h-1zM848 452h1v1h-1zM1051 452h1v1h-1zM849 453h1v1h-1zM1049 453h2v1h-2zM850 454h1v1h-1zM1048 454h1v1h-1zM851 455h1v1h-1zM1047 455h1v1h-1zM852 456h1v1h-1zM1045 456h2v1h-2zM853 457h1v1h-1zM1044 457h1v1h-1zM854 458h1v1h-1zM1042 458h2v1h-2zM855 459h1v1h-1zM1039 459h3v1h-3zM856 460h1v1h-1zM1035 460h4v1h-4zM857 461h1v1h-1zM1028 461h7v1h-7zM858 462h1v2h-1zM1026 462h2v1h-2zM1023 463h3v1h-3zM859 464h1v1h-1zM1011 464h4v1h-4zM1019 464h4v1h-4zM860 465h1v1h-1zM1008 465h3v1h-3zM1015 465h4v1h-4zM861 466h1v1h-1zM1006 466h2v1h-2zM862 467h1v1h-1zM1000 467h6v1h-6zM863 468h1v1h-1zM998 468h2v1h-2zM864 469h1v1h-1zM996 469h2v1h-2zM865 470h2v1h-2zM994 470h2v1h-2zM867 471h1v1h-1zM992 471h2v1h-2zM868 472h1v1h-1zM991 472h1v1h-1zM869 473h1v1h-1zM989 473h2v1h-2zM870 474h1v1h-1zM988 474h1v1h-1zM871 475h1v1h-1zM986 475h2v1h-2zM872 476h1v1h-1zM984 476h2v1h-2zM873 477h1v1h-1zM983 477h1v1h-1zM874 478h1v1h-1zM981 478h2v1h-2zM875 479h1v1h-1zM980 479h1v1h-1zM876 480h1v1h-1zM979 480h1v1h-1zM877 481h1v1h-1zM977 481h2v1h-2zM878 482h1v1h-1zM976 482h1v1h-1zM879 483h1v1h-1zM974 483h2v1h-2zM880 484h2v1h-2zM972 484h2v1h-2zM882 485h2v1h-2zM970 485h2v1h-2zM884 486h2v1h-2zM951 486h8v1h-8zM967 486h3v1h-3zM886 487h2v1h-2zM943 487h8v1h-8zM959 487h8v1h-8zM888 488h3v1h-3zM915 488h28v1h-28zM891 489h24v1h-24z" fill="#0000cd"/>
<rect x="4" y="143" width="1578" height="2" fill="#ff0000"/>
<rect x="1582" y="138" width="41" height="11" fill="#ff0000"/>
<text x="1586" y="146.8" font-size="9.6" fill="#fff" stroke="#fff" stroke-width="0.18" textLength="32.4" lengthAdjust="spacingAndGlyphs">0.96026</text>
<rect x="4" y="207" width="1578" height="2" fill="#ff0000"/>
<rect x="3" y="205" width="6" height="6" fill="#ff0000"/>
<rect x="5" y="207" width="2" height="2" fill="#fff"/>
<rect x="1574" y="205" width="7" height="6" fill="#ff0000"/>
<rect x="1576" y="207" width="2" height="2" fill="#fff"/>
<rect x="1582" y="202" width="41" height="11" fill="#ff0000"/>
<text x="1586" y="210.8" font-size="9.6" fill="#fff" stroke="#fff" stroke-width="0.18" textLength="32.4" lengthAdjust="spacingAndGlyphs">0.94651</text>
<rect x="4" y="284" width="1578" height="2" fill="#00ff00"/>
<rect x="3" y="282" width="6" height="6" fill="#00ff00"/>
<rect x="5" y="284" width="2" height="2" fill="#fff"/>
<rect x="1574" y="282" width="7" height="6" fill="#00ff00"/>
<rect x="1576" y="284" width="2" height="2" fill="#fff"/>
<rect x="1582" y="279" width="41" height="11" fill="#00ff00"/>
<text x="1586" y="287.8" font-size="9.6" fill="#fff" stroke="#fff" stroke-width="0.18" textLength="32.4" lengthAdjust="spacingAndGlyphs">0.93001</text>
<rect x="4" y="345" width="1578" height="2" fill="#0000ff"/>
<rect x="3" y="343" width="6" height="6" fill="#0000ff"/>
<rect x="5" y="345" width="2" height="2" fill="#fff"/>
<rect x="1574" y="343" width="7" height="6" fill="#0000ff"/>
<rect x="1576" y="345" width="2" height="2" fill="#fff"/>
<rect x="1582" y="340" width="41" height="11" fill="#0000ff"/>
<text x="1586" y="348.8" font-size="9.6" fill="#fff" stroke="#fff" stroke-width="0.18" textLength="32.4" lengthAdjust="spacingAndGlyphs">0.91709</text>
<rect x="4" y="422" width="1578" height="2" fill="#0000ff"/>
<rect x="3" y="420" width="6" height="6" fill="#0000ff"/>
<rect x="5" y="422" width="2" height="2" fill="#fff"/>
<rect x="1574" y="420" width="7" height="6" fill="#0000ff"/>
<rect x="1576" y="422" width="2" height="2" fill="#fff"/>
<rect x="1582" y="417" width="41" height="11" fill="#0000ff"/>
<text x="1586" y="425.8" font-size="9.6" fill="#fff" stroke="#fff" stroke-width="0.18" textLength="32.4" lengthAdjust="spacingAndGlyphs">0.90055</text>
<rect x="4" y="485" width="1578" height="2" fill="#0000ff"/>
<rect x="3" y="483" width="6" height="6" fill="#0000ff"/>
<rect x="5" y="485" width="2" height="2" fill="#fff"/>
<rect x="1574" y="483" width="7" height="6" fill="#0000ff"/>
<rect x="1576" y="485" width="2" height="2" fill="#fff"/>
<rect x="1582" y="480" width="41" height="11" fill="#0000ff"/>
<text x="1586" y="488.8" font-size="9.6" fill="#fff" stroke="#fff" stroke-width="0.18" textLength="32.4" lengthAdjust="spacingAndGlyphs">0.88703</text>
<rect x="4" y="541" width="1578" height="2" fill="#0000ff"/>
<rect x="3" y="539" width="6" height="6" fill="#0000ff"/>
<rect x="5" y="541" width="2" height="2" fill="#fff"/>
<rect x="1574" y="539" width="7" height="6" fill="#0000ff"/>
<rect x="1576" y="541" width="2" height="2" fill="#fff"/>
<rect x="1582" y="536" width="41" height="11" fill="#0000ff"/>
<text x="1586" y="544.8" font-size="9.6" fill="#fff" stroke="#fff" stroke-width="0.18" textLength="32.4" lengthAdjust="spacingAndGlyphs">0.87513</text>
<rect x="1582" y="361" width="41" height="11" fill="#000"/>
<text x="1586" y="369.8" font-size="9.6" fill="#fff" stroke="#fff" stroke-width="0.18" textLength="32.4" lengthAdjust="spacingAndGlyphs">0.91274</text>
<path d="M1258.5 26 L1268.5 26 L1263.5 31 Z" fill="#c0c0c0" shape-rendering="auto"/>
<path d="M7 32 L14 32 L10.5 35.6 Z" fill="#000" shape-rendering="auto"/>
<text x="19.5" y="36.8" font-size="9.6" fill="#000" stroke="#000" stroke-width="0.18" textLength="64.5" lengthAdjust="spacingAndGlyphs">USDCHF,Daily</text>
<text x="89.8" y="36.8" font-size="9.6" fill="#000" stroke="#000" stroke-width="0.18" textLength="32.4" lengthAdjust="spacingAndGlyphs">0.91362</text>
<text x="126" y="36.8" font-size="9.6" fill="#000" stroke="#000" stroke-width="0.18" textLength="32.4" lengthAdjust="spacingAndGlyphs">0.91394</text>
<text x="161.9" y="36.8" font-size="9.6" fill="#000" stroke="#000" stroke-width="0.18" textLength="32.4" lengthAdjust="spacingAndGlyphs">0.91264</text>
<text x="198.2" y="36.8" font-size="9.6" fill="#000" stroke="#000" stroke-width="0.18" textLength="32.4" lengthAdjust="spacingAndGlyphs">0.91274</text>
<text x="8.2" y="567" font-size="9.6" fill="#000" stroke="#000" stroke-width="0.18" textLength="31.2" lengthAdjust="spacingAndGlyphs">RSI(14)</text>
<text x="43.8" y="567" font-size="9.6" fill="#000" stroke="#000" stroke-width="0.18" textLength="32.4" lengthAdjust="spacingAndGlyphs">32.2359</text>
<line x1="4" y1="584.5" x2="1580" y2="584.5" stroke="#c0c0c0" stroke-width="1" stroke-dasharray="3 3"/>
<line x1="4" y1="621.5" x2="1580" y2="621.5" stroke="#c0c0c0" stroke-width="1" stroke-dasharray="3 3"/>
<text x="1584.5" y="565" font-size="9.6" fill="#000" stroke="#000" stroke-width="0.18" textLength="15.0" lengthAdjust="spacingAndGlyphs">100</text>
<text x="1583.6" y="588" font-size="9.6" fill="#000" stroke="#000" stroke-width="0.18" textLength="10.0" lengthAdjust="spacingAndGlyphs">70</text>
<text x="1583.6" y="625" font-size="9.6" fill="#000" stroke="#000" stroke-width="0.18" textLength="10.0" lengthAdjust="spacingAndGlyphs">30</text>
<text x="1584.5" y="647" font-size="9.6" fill="#000" stroke="#000" stroke-width="0.18" textLength="5.0" lengthAdjust="spacingAndGlyphs">0</text>
<path d="M1087 573h2v1h-2zM1083 574h4v1h-4zM1089 574h1v2h-1zM1080 575h3v1h-3zM1079 576h1v1h-1zM1090 576h1v2h-1zM1077 577h2v1h-2zM1076 578h1v1h-1zM1091 578h1v2h-1zM1075 579h1v1h-1zM1074 580h1v1h-1zM1092 580h3v1h-3zM1073 581h1v1h-1zM1095 581h2v1h-2zM1071 582h2v1h-2zM1096 582h1v1h-1zM536 583h3v1h-3zM980 583h1v1h-1zM1068 583h3v1h-3zM1097 583h1v2h-1zM534 584h2v1h-2zM539 584h2v1h-2zM979 584h1v1h-1zM981 584h1v1h-1zM1066 584h2v1h-2zM532 585h2v1h-2zM541 585h1v2h-1zM977 585h2v1h-2zM982 585h1v1h-1zM1048 585h1v1h-1zM1064 585h2v1h-2zM1098 585h1v2h-1zM1148 585h7v1h-7zM1164 585h6v1h-6zM531 586h1v1h-1zM976 586h1v1h-1zM983 586h1v1h-1zM1047 586h1v2h-1zM1049 586h1v2h-1zM1063 586h1v1h-1zM1146 586h2v1h-2zM1155 586h4v1h-4zM1162 586h2v1h-2zM1170 586h2v1h-2zM529 587h2v1h-2zM542 587h1v2h-1zM974 587h2v1h-2zM984 587h2v1h-2zM1061 587h2v1h-2zM1099 587h1v2h-1zM1104 587h7v1h-7zM1144 587h2v1h-2zM1159 587h3v1h-3zM1172 587h9v1h-9zM528 588h1v1h-1zM972 588h2v1h-2zM986 588h2v1h-2zM1046 588h1v2h-1zM1050 588h1v2h-1zM1060 588h1v1h-1zM1102 588h2v1h-2zM1111 588h2v1h-2zM1143 588h1v1h-1zM1181 588h1v2h-1zM527 589h1v1h-1zM543 589h1v2h-1zM971 589h1v1h-1zM988 589h1v1h-1zM1059 589h1v1h-1zM1100 589h2v1h-2zM1113 589h2v1h-2zM1127 589h4v1h-4zM1142 589h1v1h-1zM526 590h1v1h-1zM970 590h1v1h-1zM989 590h2v1h-2zM1045 590h1v2h-1zM1051 590h1v2h-1zM1057 590h2v1h-2zM1115 590h1v1h-1zM1119 590h8v1h-8zM1131 590h2v1h-2zM1141 590h1v1h-1zM1182 590h1v2h-1zM525 591h1v1h-1zM544 591h1v1h-1zM969 591h1v1h-1zM991 591h1v1h-1zM1055 591h2v1h-2zM1116 591h3v1h-3zM1132 591h1v1h-1zM1140 591h1v1h-1zM524 592h1v1h-1zM545 592h1v1h-1zM968 592h1v1h-1zM992 592h1v2h-1zM1044 592h1v2h-1zM1052 592h3v1h-3zM1133 592h1v2h-1zM1139 592h1v2h-1zM1183 592h1v2h-1zM523 593h1v1h-1zM546 593h1v1h-1zM664 593h1v2h-1zM967 593h1v2h-1zM522 594h1v2h-1zM547 594h1v1h-1zM662 594h2v1h-2zM993 594h1v2h-1zM1043 594h1v1h-1zM1134 594h1v2h-1zM1138 594h1v2h-1zM1184 594h1v1h-1zM8 595h10v1h-10zM548 595h1v1h-1zM659 595h3v1h-3zM665 595h1v2h-1zM966 595h1v1h-1zM1027 595h2v1h-2zM1042 595h1v1h-1zM1185 595h1v2h-1zM6 596h2v1h-2zM18 596h2v1h-2zM23 596h2v1h-2zM52 596h1v1h-1zM521 596h1v1h-1zM549 596h1v1h-1zM655 596h4v1h-4zM696 596h1v1h-1zM965 596h1v2h-1zM994 596h1v2h-1zM1024 596h3v1h-3zM1029 596h1v1h-1zM1041 596h1v1h-1zM1135 596h1v2h-1zM1137 596h1v2h-1zM4 597h2v1h-2zM20 597h3v1h-3zM24 597h1v1h-1zM50 597h2v1h-2zM53 597h1v1h-1zM476 597h1v1h-1zM520 597h1v1h-1zM550 597h1v2h-1zM652 597h3v1h-3zM666 597h1v2h-1zM695 597h1v1h-1zM697 597h1v1h-1zM1024 597h1v1h-1zM1030 597h1v1h-1zM1039 597h2v1h-2zM1186 597h1v2h-1zM25 598h1v2h-1zM48 598h2v1h-2zM54 598h1v2h-1zM474 598h2v1h-2zM477 598h1v1h-1zM519 598h1v2h-1zM651 598h1v2h-1zM694 598h1v1h-1zM698 598h1v1h-1zM896 598h2v1h-2zM964 598h1v1h-1zM995 598h1v2h-1zM1023 598h1v2h-1zM1031 598h1v1h-1zM1035 598h4v1h-4zM1136 598h1v1h-1zM47 599h1v1h-1zM472 599h2v1h-2zM478 599h1v2h-1zM551 599h1v1h-1zM560 599h5v1h-5zM667 599h1v2h-1zM693 599h1v1h-1zM699 599h1v1h-1zM895 599h1v2h-1zM898 599h2v1h-2zM916 599h5v1h-5zM962 599h2v1h-2zM1032 599h3v1h-3zM1187 599h1v2h-1zM26 600h1v2h-1zM45 600h2v1h-2zM55 600h1v1h-1zM76 600h7v1h-7zM464 600h2v1h-2zM471 600h1v1h-1zM518 600h1v2h-1zM552 600h3v1h-3zM558 600h2v1h-2zM565 600h1v2h-1zM650 600h1v2h-1zM692 600h1v1h-1zM700 600h7v1h-7zM736 600h2v1h-2zM900 600h1v1h-1zM914 600h2v1h-2zM921 600h1v1h-1zM928 600h1v1h-1zM960 600h2v1h-2zM996 600h1v1h-1zM1022 600h1v3h-1zM44 601h1v1h-1zM56 601h9v1h-9zM74 601h2v1h-2zM83 601h3v1h-3zM92 601h1v1h-1zM104 601h6v1h-6zM463 601h1v1h-1zM466 601h2v1h-2zM469 601h2v1h-2zM479 601h1v1h-1zM555 601h3v1h-3zM668 601h1v2h-1zM691 601h1v1h-1zM707 601h6v1h-6zM735 601h1v1h-1zM738 601h2v1h-2zM894 601h1v2h-1zM901 601h2v1h-2zM911 601h3v1h-3zM922 601h1v1h-1zM927 601h1v1h-1zM929 601h1v2h-1zM952 601h3v1h-3zM958 601h2v1h-2zM997 601h1v2h-1zM1188 601h1v1h-1zM27 602h1v2h-1zM43 602h1v2h-1zM65 602h2v1h-2zM72 602h2v1h-2zM86 602h2v1h-2zM90 602h2v1h-2zM93 602h1v2h-1zM103 602h1v1h-1zM110 602h2v1h-2zM462 602h1v1h-1zM468 602h1v1h-1zM480 602h1v1h-1zM517 602h1v2h-1zM566 602h1v1h-1zM649 602h1v2h-1zM669 602h1v1h-1zM689 602h2v1h-2zM713 602h2v1h-2zM733 602h2v1h-2zM740 602h1v1h-1zM903 602h1v1h-1zM907 602h4v1h-4zM923 602h1v1h-1zM925 602h2v1h-2zM951 602h1v1h-1zM955 602h3v1h-3zM1189 602h1v1h-1zM67 603h1v1h-1zM70 603h2v1h-2zM88 603h2v1h-2zM102 603h1v1h-1zM112 603h1v1h-1zM461 603h1v1h-1zM481 603h1v1h-1zM567 603h1v2h-1zM579 603h2v1h-2zM608 603h5v1h-5zM670 603h2v1h-2zM688 603h1v2h-1zM715 603h1v1h-1zM724 603h9v1h-9zM741 603h2v1h-2zM893 603h1v2h-1zM904 603h3v1h-3zM924 603h1v1h-1zM930 603h1v1h-1zM944 603h3v1h-3zM949 603h2v1h-2zM998 603h1v1h-1zM1011 603h2v1h-2zM1021 603h1v2h-1zM1190 603h1v2h-1zM28 604h1v3h-1zM42 604h1v1h-1zM68 604h2v1h-2zM94 604h1v2h-1zM101 604h1v1h-1zM113 604h1v1h-1zM120 604h1v1h-1zM456 604h5v1h-5zM482 604h1v2h-1zM511 604h6v1h-6zM575 604h4v1h-4zM580 604h1v1h-1zM606 604h2v1h-2zM612 604h1v1h-1zM648 604h1v2h-1zM672 604h1v1h-1zM716 604h3v1h-3zM722 604h2v1h-2zM743 604h1v1h-1zM931 604h1v2h-1zM943 604h1v1h-1zM947 604h2v1h-2zM999 604h1v2h-1zM1008 604h3v1h-3zM1013 604h1v1h-1zM41 605h1v2h-1zM100 605h1v1h-1zM114 605h1v1h-1zM119 605h1v1h-1zM121 605h1v1h-1zM455 605h1v2h-1zM508 605h3v1h-3zM568 605h7v1h-7zM581 605h1v2h-1zM596 605h2v1h-2zM604 605h2v1h-2zM613 605h1v2h-1zM673 605h1v2h-1zM687 605h1v4h-1zM719 605h3v1h-3zM744 605h1v1h-1zM892 605h1v1h-1zM942 605h1v1h-1zM1006 605h2v1h-2zM1014 605h1v1h-1zM1020 605h1v2h-1zM1191 605h1v1h-1zM95 606h1v2h-1zM99 606h1v1h-1zM115 606h1v1h-1zM117 606h2v1h-2zM122 606h1v1h-1zM483 606h1v1h-1zM491 606h3v1h-3zM500 606h3v1h-3zM506 606h2v1h-2zM595 606h1v2h-1zM598 606h2v1h-2zM602 606h2v1h-2zM647 606h1v1h-1zM745 606h1v1h-1zM848 606h2v1h-2zM891 606h1v2h-1zM932 606h2v1h-2zM941 606h1v1h-1zM1000 606h6v1h-6zM1015 606h1v1h-1zM1019 606h1v1h-1zM1192 606h1v1h-1zM29 607h1v2h-1zM40 607h1v1h-1zM97 607h2v1h-2zM116 607h1v1h-1zM123 607h1v1h-1zM232 607h1v1h-1zM288 607h5v1h-5zM416 607h7v1h-7zM454 607h1v1h-1zM484 607h7v1h-7zM494 607h2v1h-2zM498 607h2v1h-2zM503 607h3v1h-3zM582 607h1v2h-1zM600 607h2v1h-2zM614 607h1v2h-1zM646 607h1v2h-1zM674 607h1v1h-1zM746 607h1v1h-1zM846 607h2v1h-2zM850 607h2v1h-2zM934 607h2v1h-2zM939 607h2v1h-2zM1016 607h3v1h-3zM1193 607h1v1h-1zM39 608h1v1h-1zM96 608h1v1h-1zM124 608h1v1h-1zM155 608h2v1h-2zM180 608h2v1h-2zM203 608h2v1h-2zM231 608h1v1h-1zM233 608h2v1h-2zM288 608h1v1h-1zM293 608h1v1h-1zM415 608h1v1h-1zM423 608h3v1h-3zM453 608h1v2h-1zM496 608h2v1h-2zM594 608h1v2h-1zM675 608h1v2h-1zM747 608h1v1h-1zM844 608h2v1h-2zM852 608h1v1h-1zM884 608h1v1h-1zM890 608h1v1h-1zM936 608h3v1h-3zM1194 608h1v1h-1zM30 609h1v2h-1zM38 609h1v1h-1zM125 609h2v1h-2zM152 609h3v1h-3zM157 609h1v1h-1zM179 609h1v1h-1zM182 609h2v1h-2zM195 609h8v1h-8zM205 609h1v1h-1zM229 609h2v1h-2zM235 609h1v1h-1zM287 609h1v2h-1zM294 609h1v2h-1zM414 609h1v2h-1zM426 609h2v1h-2zM583 609h1v2h-1zM615 609h1v2h-1zM640 609h3v1h-3zM645 609h1v1h-1zM686 609h1v3h-1zM748 609h2v1h-2zM843 609h1v1h-1zM853 609h1v2h-1zM883 609h1v2h-1zM885 609h2v1h-2zM889 609h1v2h-1zM1195 609h1v1h-1zM37 610h1v1h-1zM127 610h1v1h-1zM151 610h1v2h-1zM158 610h1v1h-1zM178 610h1v1h-1zM184 610h2v1h-2zM192 610h3v1h-3zM206 610h1v1h-1zM220 610h9v1h-9zM236 610h3v1h-3zM428 610h7v1h-7zM452 610h1v1h-1zM593 610h1v2h-1zM639 610h1v1h-1zM643 610h2v1h-2zM676 610h1v1h-1zM750 610h2v1h-2zM841 610h2v1h-2zM887 610h1v1h-1zM1196 610h3v1h-3zM31 611h1v2h-1zM36 611h1v1h-1zM128 611h3v1h-3zM139 611h4v1h-4zM159 611h1v1h-1zM177 611h1v1h-1zM186 611h2v1h-2zM190 611h2v1h-2zM207 611h1v1h-1zM218 611h2v1h-2zM239 611h4v1h-4zM286 611h1v2h-1zM295 611h1v1h-1zM380 611h1v1h-1zM408 611h3v1h-3zM413 611h1v1h-1zM435 611h2v1h-2zM451 611h1v2h-1zM584 611h1v2h-1zM616 611h1v1h-1zM638 611h1v2h-1zM677 611h1v2h-1zM752 611h3v1h-3zM759 611h2v1h-2zM836 611h5v1h-5zM854 611h1v2h-1zM882 611h1v2h-1zM888 611h1v1h-1zM1199 611h8v1h-8zM34 612h2v1h-2zM131 612h8v1h-8zM143 612h2v1h-2zM150 612h1v2h-1zM160 612h1v1h-1zM176 612h1v2h-1zM188 612h2v1h-2zM208 612h1v1h-1zM216 612h2v1h-2zM243 612h10v1h-10zM296 612h3v1h-3zM378 612h2v1h-2zM381 612h1v1h-1zM408 612h1v1h-1zM411 612h2v1h-2zM437 612h1v1h-1zM585 612h8v1h-8zM617 612h2v1h-2zM628 612h3v1h-3zM685 612h1v4h-1zM755 612h4v1h-4zM761 612h1v1h-1zM835 612h1v1h-1zM1207 612h3v1h-3zM1216 612h5v1h-5zM32 613h2v1h-2zM145 613h1v1h-1zM161 613h1v2h-1zM209 613h2v1h-2zM215 613h1v1h-1zM253 613h1v1h-1zM276 613h5v1h-5zM285 613h1v2h-1zM299 613h6v1h-6zM376 613h2v1h-2zM382 613h1v1h-1zM407 613h1v3h-1zM438 613h1v1h-1zM450 613h1v2h-1zM619 613h1v1h-1zM627 613h1v1h-1zM631 613h4v1h-4zM637 613h1v1h-1zM678 613h1v1h-1zM762 613h1v2h-1zM834 613h1v1h-1zM855 613h1v2h-1zM881 613h1v2h-1zM1210 613h2v1h-2zM1214 613h2v1h-2zM1221 613h2v1h-2zM1244 613h1v1h-1zM146 614h1v2h-1zM149 614h1v2h-1zM175 614h1v4h-1zM211 614h1v1h-1zM213 614h2v1h-2zM254 614h1v1h-1zM275 614h1v1h-1zM281 614h2v1h-2zM305 614h1v1h-1zM374 614h2v1h-2zM383 614h1v1h-1zM439 614h1v1h-1zM443 614h2v1h-2zM620 614h1v1h-1zM626 614h1v2h-1zM635 614h2v1h-2zM679 614h1v2h-1zM833 614h1v1h-1zM868 614h1v1h-1zM1212 614h2v1h-2zM1223 614h1v1h-1zM1243 614h1v1h-1zM1245 614h1v1h-1zM162 615h1v2h-1zM212 615h1v1h-1zM255 615h1v1h-1zM274 615h1v2h-1zM283 615h2v1h-2zM306 615h1v2h-1zM368 615h6v1h-6zM384 615h3v1h-3zM440 615h3v1h-3zM445 615h2v1h-2zM449 615h1v2h-1zM621 615h2v1h-2zM763 615h1v1h-1zM832 615h1v1h-1zM856 615h1v1h-1zM866 615h2v1h-2zM869 615h1v2h-1zM880 615h1v2h-1zM1224 615h5v1h-5zM1242 615h1v1h-1zM1246 615h1v1h-1zM147 616h2v1h-2zM256 616h3v1h-3zM284 616h1v1h-1zM367 616h1v1h-1zM387 616h4v1h-4zM395 616h3v1h-3zM406 616h1v2h-1zM447 616h1v1h-1zM623 616h1v1h-1zM625 616h1v1h-1zM680 616h3v1h-3zM684 616h1v2h-1zM764 616h1v1h-1zM831 616h1v2h-1zM857 616h1v1h-1zM864 616h2v1h-2zM1229 616h1v1h-1zM1241 616h1v1h-1zM1247 616h1v1h-1zM148 617h1v1h-1zM163 617h1v2h-1zM259 617h2v1h-2zM268 617h3v1h-3zM273 617h1v1h-1zM307 617h1v1h-1zM366 617h1v2h-1zM391 617h4v1h-4zM398 617h2v1h-2zM448 617h1v1h-1zM624 617h1v1h-1zM683 617h1v1h-1zM765 617h1v1h-1zM858 617h1v1h-1zM863 617h1v1h-1zM870 617h1v1h-1zM879 617h1v1h-1zM1230 617h1v2h-1zM1240 617h1v1h-1zM1248 617h3v1h-3zM174 618h1v3h-1zM261 618h1v1h-1zM267 618h1v1h-1zM271 618h2v1h-2zM308 618h1v1h-1zM352 618h2v1h-2zM400 618h1v1h-1zM405 618h1v3h-1zM766 618h1v1h-1zM830 618h1v2h-1zM859 618h1v1h-1zM861 618h2v1h-2zM871 618h1v2h-1zM878 618h1v1h-1zM1239 618h1v1h-1zM1251 618h3v1h-3zM164 619h1v1h-1zM262 619h1v1h-1zM266 619h1v1h-1zM309 619h1v1h-1zM352 619h1v1h-1zM354 619h2v1h-2zM365 619h1v1h-1zM401 619h1v1h-1zM767 619h1v1h-1zM800 619h7v1h-7zM860 619h1v1h-1zM877 619h1v1h-1zM1231 619h1v1h-1zM1238 619h1v1h-1zM1254 619h2v1h-2zM165 620h1v1h-1zM263 620h1v1h-1zM265 620h1v1h-1zM310 620h1v2h-1zM351 620h1v3h-1zM356 620h1v1h-1zM364 620h1v1h-1zM402 620h1v1h-1zM768 620h1v1h-1zM799 620h1v2h-1zM807 620h3v1h-3zM829 620h1v2h-1zM872 620h5v1h-5zM1232 620h3v1h-3zM1237 620h1v1h-1zM1256 620h1v1h-1zM166 621h1v1h-1zM173 621h1v4h-1zM264 621h1v1h-1zM357 621h1v2h-1zM363 621h1v2h-1zM403 621h2v1h-2zM769 621h1v1h-1zM810 621h2v1h-2zM1235 621h2v1h-2zM167 622h1v1h-1zM311 622h1v1h-1zM404 622h1v1h-1zM770 622h1v1h-1zM798 622h1v2h-1zM812 622h3v1h-3zM824 622h3v1h-3zM828 622h1v2h-1zM168 623h1v1h-1zM312 623h1v1h-1zM350 623h1v2h-1zM358 623h1v2h-1zM362 623h1v2h-1zM771 623h1v1h-1zM815 623h4v1h-4zM822 623h2v1h-2zM827 623h1v1h-1zM169 624h2v1h-2zM313 624h2v1h-2zM772 624h7v1h-7zM792 624h2v1h-2zM797 624h1v2h-1zM819 624h3v1h-3zM171 625h2v1h-2zM315 625h1v1h-1zM349 625h1v3h-1zM359 625h1v2h-1zM361 625h1v2h-1zM779 625h4v1h-4zM790 625h2v1h-2zM794 625h2v1h-2zM172 626h1v1h-1zM316 626h1v1h-1zM783 626h7v1h-7zM796 626h1v1h-1zM317 627h2v1h-2zM360 627h1v1h-1zM319 628h1v1h-1zM348 628h1v2h-1zM320 629h10v1h-10zM330 630h2v1h-2zM347 630h1v1h-1zM332 631h2v1h-2zM346 631h1v2h-1zM334 632h2v1h-2zM336 633h3v1h-3zM345 633h1v1h-1zM339 634h6v1h-6z" fill="#1e90ff"/>
<text x="8.2" y="665" font-size="9.6" fill="#000" stroke="#000" stroke-width="0.18" textLength="66.3" lengthAdjust="spacingAndGlyphs">MACD(12,26,9)</text>
<text x="77" y="665" font-size="9.6" fill="#000" stroke="#000" stroke-width="0.18" textLength="40.6" lengthAdjust="spacingAndGlyphs">-0.004005</text>
<text x="121.3" y="665" font-size="9.6" fill="#000" stroke="#000" stroke-width="0.18" textLength="40.6" lengthAdjust="spacingAndGlyphs">-0.003048</text>
<path d="M4 700h1v4h-1zM8 699h1v5h-1zM12 697h1v7h-1zM16 696h1v8h-1zM20 696h1v8h-1zM24 695h1v9h-1zM28 698h1v6h-1zM32 703h1v2h-1zM36 703h1v3h-1zM40 703h1v4h-1zM44 703h1v2h-1zM48 702h1v2h-1zM52 700h1v4h-1zM56 701h1v3h-1zM60 702h1v2h-1zM64 702h1v2h-1zM68 702h1v2h-1zM72 702h1v2h-1zM76 701h1v3h-1zM80 701h1v3h-1zM84 701h1v3h-1zM88 703h1v1h-1zM92 703h1v1h-1zM96 703h1v2h-1zM100 703h1v2h-1zM104 703h1v2h-1zM108 703h1v2h-1zM112 703h1v2h-1zM116 703h1v1h-1zM120 703h1v1h-1zM124 703h1v2h-1zM128 703h1v5h-1zM132 703h1v7h-1zM136 703h1v9h-1zM140 703h1v10h-1zM144 703h1v11h-1zM148 703h1v13h-1zM152 703h1v13h-1zM156 703h1v12h-1zM160 703h1v14h-1zM164 703h1v17h-1zM168 703h1v22h-1zM172 703h1v27h-1zM176 703h1v27h-1zM180 703h1v26h-1zM184 703h1v25h-1zM188 703h1v25h-1zM192 703h1v24h-1zM196 703h1v23h-1zM200 703h1v21h-1zM204 703h1v21h-1zM208 703h1v21h-1zM212 703h1v22h-1zM216 703h1v21h-1zM220 703h1v20h-1zM224 703h1v19h-1zM228 703h1v18h-1zM232 703h1v17h-1zM236 703h1v17h-1zM240 703h1v16h-1zM244 703h1v16h-1zM248 703h1v17h-1zM252 703h1v17h-1zM256 703h1v18h-1zM260 703h1v19h-1zM264 703h1v18h-1zM268 703h1v17h-1zM272 703h1v17h-1zM276 703h1v16h-1zM280 703h1v15h-1zM284 703h1v15h-1zM288 703h1v16h-1zM292 703h1v15h-1zM296 703h1v15h-1zM300 703h1v16h-1zM304 703h1v17h-1zM308 703h1v17h-1zM312 703h1v18h-1zM316 703h1v21h-1zM320 703h1v26h-1zM324 703h1v28h-1zM328 703h1v31h-1zM332 703h1v34h-1zM336 703h1v37h-1zM340 703h1v38h-1zM344 703h1v41h-1zM348 703h1v41h-1zM352 703h1v39h-1zM356 703h1v38h-1zM360 703h1v38h-1zM364 703h1v38h-1zM368 703h1v38h-1zM372 703h1v37h-1zM376 703h1v33h-1zM380 703h1v31h-1zM384 703h1v30h-1zM388 703h1v31h-1zM392 703h1v30h-1zM396 703h1v29h-1zM400 703h1v29h-1zM404 703h1v29h-1zM408 703h1v28h-1zM412 703h1v26h-1zM416 703h1v24h-1zM420 703h1v21h-1zM424 703h1v19h-1zM428 703h1v19h-1zM432 703h1v19h-1zM436 703h1v19h-1zM440 703h1v20h-1zM444 703h1v21h-1zM448 703h1v20h-1zM452 703h1v19h-1zM456 703h1v17h-1zM460 703h1v15h-1zM464 703h1v11h-1zM468 703h1v9h-1zM472 703h1v7h-1zM476 703h1v4h-1zM480 703h1v2h-1zM484 703h1v3h-1zM488 703h1v4h-1zM492 703h1v5h-1zM496 703h1v5h-1zM500 703h1v6h-1zM504 703h1v5h-1zM508 703h1v5h-1zM512 703h1v6h-1zM516 703h1v5h-1zM520 703h1v4h-1zM524 703h1v2h-1zM528 699h1v5h-1zM532 694h1v10h-1zM536 691h1v13h-1zM540 688h1v16h-1zM544 687h1v17h-1zM548 688h1v16h-1zM552 689h1v15h-1zM556 691h1v13h-1zM560 692h1v12h-1zM564 693h1v11h-1zM568 695h1v9h-1zM572 697h1v7h-1zM576 699h1v5h-1zM580 700h1v4h-1zM584 702h1v2h-1zM588 703h1v1h-1zM592 703h1v3h-1zM596 703h1v5h-1zM600 703h1v4h-1zM604 703h1v4h-1zM608 703h1v4h-1zM612 703h1v4h-1zM616 703h1v5h-1zM620 703h1v7h-1zM624 703h1v10h-1zM628 703h1v11h-1zM632 703h1v12h-1zM636 703h1v13h-1zM640 703h1v14h-1zM644 703h1v14h-1zM648 703h1v11h-1zM652 703h1v8h-1zM656 703h1v5h-1zM660 703h1v2h-1zM664 703h1v2h-1zM668 703h1v1h-1zM672 703h1v1h-1zM676 703h1v5h-1zM680 703h1v8h-1zM684 703h1v11h-1zM688 703h1v9h-1zM692 703h1v7h-1zM696 703h1v4h-1zM700 703h1v2h-1zM704 703h1v1h-1zM708 702h1v2h-1zM712 702h1v2h-1zM716 702h1v2h-1zM720 702h1v2h-1zM724 702h1v2h-1zM728 702h1v2h-1zM732 702h1v2h-1zM736 702h1v2h-1zM740 702h1v2h-1zM744 702h1v2h-1zM748 703h1v1h-1zM752 703h1v3h-1zM756 703h1v6h-1zM760 703h1v8h-1zM764 703h1v9h-1zM768 703h1v12h-1zM772 703h1v17h-1zM776 703h1v20h-1zM780 703h1v23h-1zM784 703h1v26h-1zM788 703h1v27h-1zM792 703h1v28h-1zM796 703h1v28h-1zM800 703h1v29h-1zM804 703h1v28h-1zM808 703h1v27h-1zM812 703h1v28h-1zM816 703h1v28h-1zM820 703h1v28h-1zM824 703h1v29h-1zM828 703h1v28h-1zM832 703h1v26h-1zM836 703h1v24h-1zM840 703h1v22h-1zM844 703h1v20h-1zM848 703h1v18h-1zM852 703h1v16h-1zM856 703h1v16h-1zM860 703h1v17h-1zM864 703h1v17h-1zM868 703h1v17h-1zM872 703h1v17h-1zM876 703h1v18h-1zM880 703h1v19h-1zM884 703h1v18h-1zM888 703h1v17h-1zM892 703h1v16h-1zM896 703h1v12h-1zM900 703h1v10h-1zM904 703h1v8h-1zM908 703h1v7h-1zM912 703h1v6h-1zM916 703h1v4h-1zM920 703h1v3h-1zM924 703h1v2h-1zM928 703h1v2h-1zM932 703h1v1h-1zM936 703h1v2h-1zM940 703h1v2h-1zM944 703h1v2h-1zM948 703h1v2h-1zM952 703h1v2h-1zM956 703h1v2h-1zM960 703h1v1h-1zM964 702h1v2h-1zM968 701h1v3h-1zM972 698h1v6h-1zM976 695h1v9h-1zM980 693h1v11h-1zM984 691h1v13h-1zM988 690h1v14h-1zM992 690h1v14h-1zM996 692h1v12h-1zM1000 694h1v10h-1zM1004 697h1v7h-1zM1008 699h1v5h-1zM1012 700h1v4h-1zM1016 702h1v2h-1zM1020 702h1v2h-1zM1024 702h1v2h-1zM1028 700h1v4h-1zM1032 699h1v5h-1zM1036 699h1v5h-1zM1040 699h1v5h-1zM1044 697h1v7h-1zM1048 694h1v10h-1zM1052 692h1v12h-1zM1056 690h1v14h-1zM1060 688h1v16h-1zM1064 685h1v19h-1zM1068 682h1v22h-1zM1072 680h1v24h-1zM1076 675h1v29h-1zM1080 670h1v34h-1zM1084 666h1v38h-1zM1088 661h1v43h-1zM1092 659h1v45h-1zM1096 659h1v45h-1zM1100 661h1v43h-1zM1104 662h1v42h-1zM1108 663h1v41h-1zM1112 664h1v40h-1zM1116 667h1v37h-1zM1120 669h1v35h-1zM1124 671h1v33h-1zM1128 672h1v32h-1zM1132 673h1v31h-1zM1136 676h1v28h-1zM1140 677h1v27h-1zM1144 676h1v28h-1zM1148 674h1v30h-1zM1152 673h1v31h-1zM1156 673h1v31h-1zM1160 673h1v31h-1zM1164 673h1v31h-1zM1168 673h1v31h-1zM1172 673h1v31h-1zM1176 673h1v31h-1zM1180 674h1v30h-1zM1184 676h1v28h-1zM1188 680h1v24h-1zM1192 684h1v20h-1zM1196 691h1v13h-1zM1200 695h1v9h-1zM1204 699h1v5h-1zM1208 702h1v2h-1zM1212 703h1v2h-1zM1216 703h1v4h-1zM1220 703h1v6h-1zM1224 703h1v8h-1zM1228 703h1v10h-1zM1232 703h1v12h-1zM1236 703h1v15h-1zM1240 703h1v16h-1zM1244 703h1v17h-1zM1248 703h1v18h-1zM1252 703h1v19h-1zM1256 703h1v20h-1z" fill="#c0c0c0"/>
<path d="M1114 661h3v1h-3zM1108 662h3v1h-3zM1120 662h3v1h-3zM1126 663h1v1h-1zM1104 664h1v1h-1zM1127 664h2v1h-2zM1102 665h2v1h-2zM1132 666h3v1h-3zM1097 668h2v1h-2zM1138 668h2v1h-2zM1096 669h1v1h-1zM1140 669h1v1h-1zM1144 671h3v1h-3zM1092 672h1v1h-1zM1150 672h1v1h-1zM1175 672h2v1h-2zM1180 672h3v1h-3zM1091 673h1v1h-1zM1151 673h2v1h-2zM1156 673h3v1h-3zM1162 673h3v1h-3zM1168 673h3v1h-3zM1174 673h1v1h-1zM1186 673h1v1h-1zM1090 674h1v1h-1zM1187 674h2v1h-2zM1192 675h2v1h-2zM1194 676h1v1h-1zM1085 678h2v1h-2zM1198 678h2v1h-2zM1084 679h1v1h-1zM1200 679h1v1h-1zM1080 682h1v1h-1zM1204 682h1v1h-1zM1079 683h1v1h-1zM1205 683h2v1h-2zM1078 684h1v1h-1zM1074 687h1v1h-1zM1210 687h1v1h-1zM1072 688h2v1h-2zM1211 688h1v1h-1zM563 689h2v1h-2zM568 689h3v1h-3zM1212 689h1v1h-1zM562 690h1v1h-1zM574 690h1v1h-1zM1068 690h1v1h-1zM558 691h1v1h-1zM575 691h2v1h-2zM1066 691h2v1h-2zM556 692h2v1h-2zM1006 692h1v1h-1zM1216 692h1v1h-1zM580 693h3v1h-3zM1002 693h1v1h-1zM1007 693h2v1h-2zM1012 693h3v1h-3zM1062 693h1v1h-1zM1217 693h1v1h-1zM552 694h1v1h-1zM586 694h1v1h-1zM996 694h1v1h-1zM1000 694h2v1h-2zM1018 694h1v1h-1zM1060 694h2v1h-2zM1218 694h1v1h-1zM550 695h2v1h-2zM587 695h2v1h-2zM994 695h2v1h-2zM1019 695h2v1h-2zM1055 696h2v1h-2zM546 697h1v1h-1zM592 697h2v1h-2zM988 697h3v1h-3zM1024 697h3v1h-3zM1054 697h1v1h-1zM28 698h3v1h-3zM34 698h3v1h-3zM544 698h2v1h-2zM594 698h1v1h-1zM1030 698h3v1h-3zM1050 698h1v1h-1zM1222 698h1v1h-1zM23 699h2v1h-2zM40 699h3v1h-3zM983 699h2v1h-2zM1036 699h3v1h-3zM1042 699h3v1h-3zM1048 699h2v1h-2zM1223 699h1v1h-1zM22 700h1v1h-1zM46 700h3v1h-3zM88 700h3v1h-3zM540 700h1v1h-1zM598 700h2v1h-2zM982 700h1v1h-1zM1224 700h1v1h-1zM16 701h3v1h-3zM52 701h3v1h-3zM58 701h1v1h-1zM76 701h3v1h-3zM82 701h3v1h-3zM94 701h3v1h-3zM100 701h3v1h-3zM539 701h1v1h-1zM600 701h1v1h-1zM978 701h1v1h-1zM11 702h2v1h-2zM59 702h2v1h-2zM64 702h3v1h-3zM70 702h3v1h-3zM106 702h3v1h-3zM112 702h3v1h-3zM118 702h3v1h-3zM538 702h1v1h-1zM976 702h2v1h-2zM4 703h3v1h-3zM10 703h1v1h-1zM124 703h3v1h-3zM604 703h3v1h-3zM731 703h2v1h-2zM736 703h3v1h-3zM742 703h3v1h-3zM971 703h2v1h-2zM1228 703h2v1h-2zM130 704h1v1h-1zM534 704h1v1h-1zM610 704h1v1h-1zM724 704h3v1h-3zM730 704h1v1h-1zM748 704h3v1h-3zM970 704h1v1h-1zM1230 704h1v1h-1zM131 705h2v1h-2zM136 705h3v1h-3zM532 705h2v1h-2zM611 705h2v1h-2zM719 705h2v1h-2zM754 705h3v1h-3zM760 705h3v1h-3zM946 705h3v1h-3zM952 705h3v1h-3zM958 705h3v1h-3zM964 705h3v1h-3zM527 706h2v1h-2zM616 706h3v1h-3zM718 706h1v1h-1zM935 706h2v1h-2zM940 706h3v1h-3zM1234 706h1v1h-1zM142 707h2v1h-2zM508 707h3v1h-3zM526 707h1v1h-1zM622 707h1v1h-1zM682 707h3v1h-3zM706 707h3v1h-3zM712 707h3v1h-3zM766 707h2v1h-2zM934 707h1v1h-1zM1235 707h1v1h-1zM144 708h1v1h-1zM502 708h3v1h-3zM514 708h3v1h-3zM520 708h3v1h-3zM623 708h2v1h-2zM676 708h3v1h-3zM688 708h3v1h-3zM694 708h3v1h-3zM700 708h3v1h-3zM768 708h1v1h-1zM928 708h3v1h-3zM1236 708h1v1h-1zM148 709h2v1h-2zM492 709h1v1h-1zM496 709h3v1h-3zM628 709h3v1h-3zM671 709h2v1h-2zM924 709h1v1h-1zM150 710h1v1h-1zM490 710h2v1h-2zM634 710h3v1h-3zM670 710h1v1h-1zM772 710h2v1h-2zM922 710h2v1h-2zM154 711h1v1h-1zM666 711h1v1h-1zM774 711h1v1h-1zM1240 711h2v1h-2zM155 712h2v1h-2zM486 712h1v1h-1zM640 712h3v1h-3zM646 712h1v1h-1zM659 712h2v1h-2zM664 712h2v1h-2zM918 712h1v1h-1zM1242 712h1v1h-1zM160 713h2v1h-2zM484 713h2v1h-2zM647 713h2v1h-2zM658 713h1v1h-1zM778 713h2v1h-2zM916 713h2v1h-2zM162 714h1v1h-1zM652 714h3v1h-3zM780 714h1v1h-1zM1246 714h2v1h-2zM166 715h1v1h-1zM479 715h2v1h-2zM911 715h2v1h-2zM1248 715h1v1h-1zM167 716h2v1h-2zM478 716h1v1h-1zM784 716h1v1h-1zM910 716h1v1h-1zM1252 716h3v1h-3zM474 717h1v1h-1zM785 717h2v1h-2zM906 717h1v1h-1zM172 718h1v1h-1zM472 718h2v1h-2zM899 718h2v1h-2zM904 718h2v1h-2zM173 719h2v1h-2zM468 719h1v1h-1zM898 719h1v1h-1zM251 720h2v1h-2zM256 720h3v1h-3zM262 720h1v1h-1zM298 720h3v1h-3zM304 720h3v1h-3zM310 720h3v1h-3zM466 720h2v1h-2zM790 720h1v1h-1zM875 720h2v1h-2zM880 720h3v1h-3zM886 720h3v1h-3zM892 720h3v1h-3zM178 721h1v1h-1zM239 721h2v1h-2zM244 721h3v1h-3zM250 721h1v1h-1zM263 721h2v1h-2zM268 721h3v1h-3zM274 721h3v1h-3zM280 721h3v1h-3zM286 721h3v1h-3zM292 721h3v1h-3zM316 721h3v1h-3zM322 721h1v1h-1zM455 721h2v1h-2zM460 721h3v1h-3zM791 721h1v1h-1zM868 721h3v1h-3zM874 721h1v1h-1zM179 722h2v1h-2zM232 722h3v1h-3zM238 722h1v1h-1zM323 722h2v1h-2zM454 722h1v1h-1zM792 722h1v1h-1zM863 722h2v1h-2zM184 723h3v1h-3zM227 723h2v1h-2zM443 723h2v1h-2zM448 723h3v1h-3zM862 723h1v1h-1zM190 724h1v1h-1zM220 724h3v1h-3zM226 724h1v1h-1zM328 724h2v1h-2zM442 724h1v1h-1zM796 724h2v1h-2zM856 724h3v1h-3zM191 725h2v1h-2zM215 725h2v1h-2zM330 725h1v1h-1zM438 725h1v1h-1zM798 725h1v1h-1zM196 726h3v1h-3zM202 726h1v1h-1zM208 726h3v1h-3zM214 726h1v1h-1zM436 726h2v1h-2zM851 726h2v1h-2zM203 727h2v1h-2zM334 727h2v1h-2zM431 727h2v1h-2zM802 727h2v1h-2zM850 727h1v1h-1zM336 728h1v1h-1zM430 728h1v1h-1zM804 728h1v1h-1zM844 728h3v1h-3zM426 729h1v1h-1zM808 729h3v1h-3zM839 729h2v1h-2zM419 730h2v1h-2zM424 730h2v1h-2zM814 730h3v1h-3zM832 730h3v1h-3zM838 730h1v1h-1zM340 731h1v1h-1zM418 731h1v1h-1zM820 731h3v1h-3zM826 731h3v1h-3zM341 732h2v1h-2zM414 732h1v1h-1zM407 733h2v1h-2zM412 733h2v1h-2zM400 734h3v1h-3zM406 734h1v1h-1zM346 735h2v1h-2zM396 735h1v1h-1zM348 736h1v1h-1zM394 736h2v1h-2zM352 738h3v1h-3zM388 738h3v1h-3zM358 739h1v1h-1zM383 739h2v1h-2zM359 740h2v1h-2zM382 740h1v1h-1zM364 741h3v1h-3zM370 741h3v1h-3zM376 741h3v1h-3z" fill="#ff0000"/>
<rect x="1581" y="703" width="2" height="1" fill="#000"/>
<text x="1584.7" y="663" font-size="9.6" fill="#000" stroke="#000" stroke-width="0.18" textLength="37.3" lengthAdjust="spacingAndGlyphs">0.010933</text>
<text x="1584.7" y="707" font-size="9.6" fill="#000" stroke="#000" stroke-width="0.18" textLength="17.5" lengthAdjust="spacingAndGlyphs">0.00</text>
<text x="1584.2" y="745" font-size="9.6" fill="#000" stroke="#000" stroke-width="0.18" textLength="40.5" lengthAdjust="spacingAndGlyphs">-0.009653</text>
<rect x="4" y="749" width="1" height="3" fill="#000"/>
<text x="3" y="761" font-size="9.6" fill="#000" stroke="#000" stroke-width="0.18" textLength="50.9" lengthAdjust="spacingAndGlyphs">23 Apr 2020</text>
<rect x="68" y="749" width="1" height="3" fill="#000"/>
<text x="67" y="761" font-size="9.6" fill="#000" stroke="#000" stroke-width="0.18" textLength="54.6" lengthAdjust="spacingAndGlyphs">12 May 2020</text>
<rect x="132" y="749" width="1" height="3" fill="#000"/>
<text x="131" y="761" font-size="9.6" fill="#000" stroke="#000" stroke-width="0.18" textLength="54.6" lengthAdjust="spacingAndGlyphs">30 May 2020</text>
<rect x="196" y="749" width="1" height="3" fill="#000"/>
<text x="195" y="761" font-size="9.6" fill="#000" stroke="#000" stroke-width="0.18" textLength="52.0" lengthAdjust="spacingAndGlyphs">18 Jun 2020</text>
<rect x="260" y="749" width="1" height="3" fill="#000"/>
<text x="259" y="761" font-size="9.6" fill="#000" stroke="#000" stroke-width="0.18" textLength="43.6" lengthAdjust="spacingAndGlyphs">7 Jul 2020</text>
<rect x="324" y="749" width="1" height="3" fill="#000"/>
<text x="323" y="761" font-size="9.6" fill="#000" stroke="#000" stroke-width="0.18" textLength="48.8" lengthAdjust="spacingAndGlyphs">25 Jul 2020</text>
<rect x="388" y="749" width="1" height="3" fill="#000"/>
<text x="387" y="761" font-size="9.6" fill="#000" stroke="#000" stroke-width="0.18" textLength="53.0" lengthAdjust="spacingAndGlyphs">13 Aug 2020</text>
<rect x="452" y="749" width="1" height="3" fill="#000"/>
<text x="451" y="761" font-size="9.6" fill="#000" stroke="#000" stroke-width="0.18" textLength="48.3" lengthAdjust="spacingAndGlyphs">1 Sep 2020</text>
<rect x="516" y="749" width="1" height="3" fill="#000"/>
<text x="515" y="761" font-size="9.6" fill="#000" stroke="#000" stroke-width="0.18" textLength="53.6" lengthAdjust="spacingAndGlyphs">19 Sep 2020</text>
<rect x="580" y="749" width="1" height="3" fill="#000"/>
<text x="579" y="761" font-size="9.6" fill="#000" stroke="#000" stroke-width="0.18" textLength="46.2" lengthAdjust="spacingAndGlyphs">8 Oct 2020</text>
<rect x="644" y="749" width="1" height="3" fill="#000"/>
<text x="643" y="761" font-size="9.6" fill="#000" stroke="#000" stroke-width="0.18" textLength="51.5" lengthAdjust="spacingAndGlyphs">27 Oct 2020</text>
<rect x="708" y="749" width="1" height="3" fill="#000"/>
<text x="707" y="761" font-size="9.6" fill="#000" stroke="#000" stroke-width="0.18" textLength="53.6" lengthAdjust="spacingAndGlyphs">14 Nov 2020</text>
<rect x="772" y="749" width="1" height="3" fill="#000"/>
<text x="771" y="761" font-size="9.6" fill="#000" stroke="#000" stroke-width="0.18" textLength="48.3" lengthAdjust="spacingAndGlyphs">3 Dec 2020</text>
<rect x="836" y="749" width="1" height="3" fill="#000"/>
<text x="835" y="761" font-size="9.6" fill="#000" stroke="#000" stroke-width="0.18" textLength="53.6" lengthAdjust="spacingAndGlyphs">22 Dec 2020</text>
<rect x="900" y="749" width="1" height="3" fill="#000"/>
<text x="899" y="761" font-size="9.6" fill="#000" stroke="#000" stroke-width="0.18" textLength="52.0" lengthAdjust="spacingAndGlyphs">12 Jan 2021</text>
<rect x="964" y="749" width="1" height="3" fill="#000"/>
<text x="963" y="761" font-size="9.6" fill="#000" stroke="#000" stroke-width="0.18" textLength="52.0" lengthAdjust="spacingAndGlyphs">30 Jan 2021</text>
<rect x="1028" y="749" width="1" height="3" fill="#000"/>
<text x="1027" y="761" font-size="9.6" fill="#000" stroke="#000" stroke-width="0.18" textLength="53.0" lengthAdjust="spacingAndGlyphs">18 Feb 2021</text>
<rect x="1092" y="749" width="1" height="3" fill="#000"/>
<text x="1091" y="761" font-size="9.6" fill="#000" stroke="#000" stroke-width="0.18" textLength="47.8" lengthAdjust="spacingAndGlyphs">9 Mar 2021</text>
<rect x="1156" y="749" width="1" height="3" fill="#000"/>
<text x="1155" y="761" font-size="9.6" fill="#000" stroke="#000" stroke-width="0.18" textLength="53.0" lengthAdjust="spacingAndGlyphs">27 Mar 2021</text>
<rect x="1220" y="749" width="1" height="3" fill="#000"/>
<text x="1219" y="761" font-size="9.6" fill="#000" stroke="#000" stroke-width="0.18" textLength="50.9" lengthAdjust="spacingAndGlyphs">15 Apr 2021</text>
<rect x="0" y="769" width="1624" height="1" fill="#f0f0f0"/>
<rect x="0" y="770" width="1624" height="1" fill="#ffffff"/>
<rect x="0" y="771" width="1624" height="1" fill="#000"/>
<rect x="0" y="772" width="1624" height="19" fill="#f0f0f0"/>
<rect x="0" y="791" width="1624" height="4" fill="#fcfcfc"/>
<rect x="0" y="795" width="1624" height="1" fill="#a0a0a0"/>
<rect x="0" y="796" width="1624" height="1" fill="#f0f0f0"/>
<rect x="0" y="772" width="1" height="18" fill="#000"/>
<rect x="110" y="770" width="98" height="19" fill="#fff"/>
<rect x="109" y="771" width="1" height="19" fill="#000"/>
<rect x="208" y="771" width="1" height="19" fill="#000"/>
<rect x="109" y="789" width="100" height="1" fill="#000"/>
<rect x="110" y="790" width="100" height="1" fill="#a8a8a8"/>
<rect x="209" y="773" width="1" height="17" fill="#d0d0d0"/>
<text x="17.5" y="786" font-size="13" fill="#7a7a7a" stroke="#7a7a7a" stroke-width="0.18" textLength="79.5" lengthAdjust="spacingAndGlyphs" shape-rendering="auto">EURUSD,Daily</text>
<text x="220" y="786" font-size="13" fill="#7a7a7a" stroke="#7a7a7a" stroke-width="0.18" textLength="82.2" lengthAdjust="spacingAndGlyphs" shape-rendering="auto">AUDUSD,Daily</text>
<text x="324" y="786" font-size="13" fill="#7a7a7a" stroke="#7a7a7a" stroke-width="0.18" textLength="81.4" lengthAdjust="spacingAndGlyphs" shape-rendering="auto">USDCAD,Daily</text>
<text x="427.2" y="786" font-size="13" fill="#7a7a7a" stroke="#7a7a7a" stroke-width="0.18" textLength="82.8" lengthAdjust="spacingAndGlyphs" shape-rendering="auto">USDCNH,Daily</text>
<text x="533" y="786" font-size="13" fill="#7a7a7a" stroke="#7a7a7a" stroke-width="0.18" textLength="80" lengthAdjust="spacingAndGlyphs" shape-rendering="auto">EURUSD,Daily</text>
<text x="637" y="786" font-size="13" fill="#7a7a7a" stroke="#7a7a7a" stroke-width="0.18" textLength="80.3" lengthAdjust="spacingAndGlyphs" shape-rendering="auto">GBPUSD,Daily</text>
<text x="740" y="786" font-size="13" fill="#7a7a7a" stroke="#7a7a7a" stroke-width="0.18" textLength="69.4" lengthAdjust="spacingAndGlyphs" shape-rendering="auto">XAUUSD,H4</text>
<text x="833" y="786" font-size="13" fill="#7a7a7a" stroke="#7a7a7a" stroke-width="0.18" textLength="59.5" lengthAdjust="spacingAndGlyphs" shape-rendering="auto">HK50,M15</text>
<text x="916.2" y="786" font-size="13" fill="#7a7a7a" stroke="#7a7a7a" stroke-width="0.18" textLength="56.3" lengthAdjust="spacingAndGlyphs" shape-rendering="auto">UK100,H1</text>
<text x="996.2" y="786" font-size="13" fill="#7a7a7a" stroke="#7a7a7a" stroke-width="0.18" textLength="56.4" lengthAdjust="spacingAndGlyphs" shape-rendering="auto">UK100,H1</text>
<text x="1076.5" y="786" font-size="13" fill="#7a7a7a" stroke="#7a7a7a" stroke-width="0.18" textLength="56.2" lengthAdjust="spacingAndGlyphs" shape-rendering="auto">GER30,H1</text>
<text x="1155.3" y="786" font-size="13" fill="#7a7a7a" stroke="#7a7a7a" stroke-width="0.18" textLength="54.5" lengthAdjust="spacingAndGlyphs" shape-rendering="auto">FRA40,H1</text>
<text x="1231.3" y="786" font-size="13" fill="#7a7a7a" stroke="#7a7a7a" stroke-width="0.18" textLength="50.6" lengthAdjust="spacingAndGlyphs" shape-rendering="auto">USOil,H1</text>
<text x="1303.4" y="786" font-size="13" fill="#7a7a7a" stroke="#7a7a7a" stroke-width="0.18" textLength="62.3" lengthAdjust="spacingAndGlyphs" shape-rendering="auto">USDJPY,H1</text>
<text x="1388.3" y="786" font-size="13" fill="#7a7a7a" stroke="#7a7a7a" stroke-width="0.18" textLength="72.8" lengthAdjust="spacingAndGlyphs" shape-rendering="auto">DJ30,Weekly</text>
<text x="1483" y="786" font-size="13" fill="#7a7a7a" stroke="#7a7a7a" stroke-width="0.18" textLength="78.5" lengthAdjust="spacingAndGlyphs" shape-rendering="auto">CHINA300,H1</text>
<text x="119.7" y="786" font-size="13" fill="#000" stroke="#000" stroke-width="0.18" textLength="78.3" lengthAdjust="spacingAndGlyphs">USDCHF,Daily</text>
<text x="1583.8" y="786" font-size="13" fill="#9a9a9a" stroke="#9a9a9a" stroke-width="0.18" textLength="6.4" lengthAdjust="spacingAndGlyphs">U</text>
<rect x="313" y="774" width="1" height="14" fill="#505050"/>
<rect x="417" y="774" width="1" height="14" fill="#505050"/>
<rect x="521" y="774" width="1" height="14" fill="#505050"/>
<rect x="625" y="774" width="1" height="14" fill="#505050"/>
<rect x="729" y="774" width="1" height="14" fill="#505050"/>
<rect x="821" y="774" width="1" height="14" fill="#505050"/>
<rect x="905" y="774" width="1" height="14" fill="#505050"/>
<rect x="985" y="774" width="1" height="14" fill="#505050"/>
<rect x="1065" y="774" width="1" height="14" fill="#505050"/>
<rect x="1145" y="774" width="1" height="14" fill="#505050"/>
<rect x="1221" y="774" width="1" height="14" fill="#505050"/>
<rect x="1293" y="774" width="1" height="14" fill="#505050"/>
<rect x="1377" y="774" width="1" height="14" fill="#505050"/>
<rect x="1473" y="774" width="1" height="14" fill="#505050"/>
<rect x="1573" y="774" width="1" height="14" fill="#505050"/>
<path d="M1599 777 L1599 783.4 L1595.6 780.2 Z" fill="#a0a0a0" shape-rendering="auto"/>
<path d="M1615 777 L1615 783.4 L1618.4 780.2 Z" fill="#000" shape-rendering="auto"/>
</svg>
</body></html>
